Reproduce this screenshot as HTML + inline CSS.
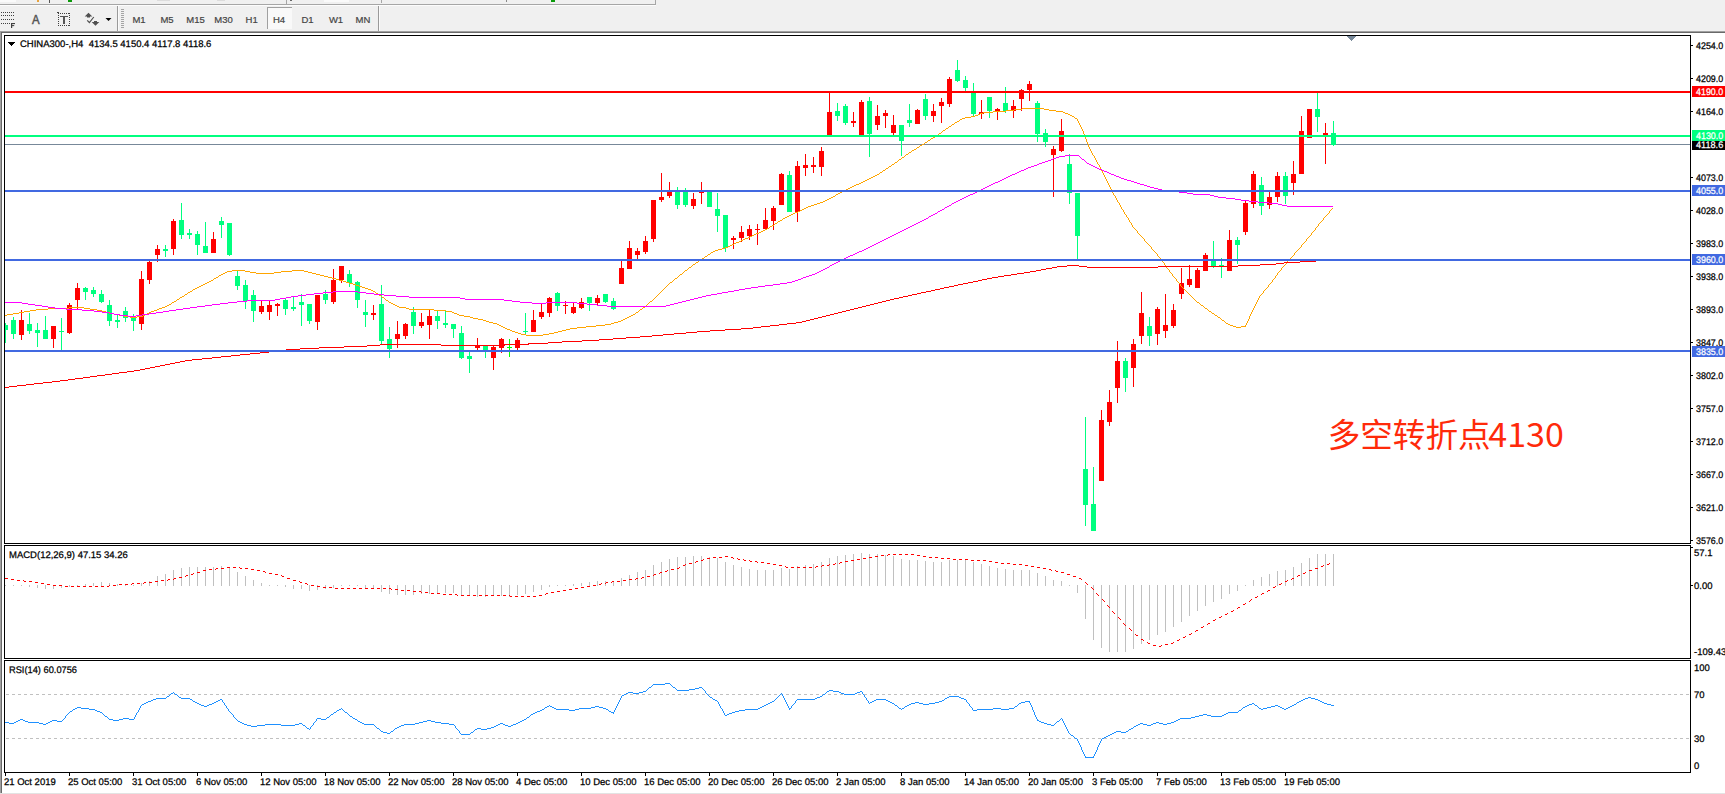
<!DOCTYPE html>
<html><head><meta charset="utf-8"><title>CHINA300-,H4</title>
<style>
html,body{margin:0;padding:0;}
body{width:1725px;height:794px;overflow:hidden;background:#f0f0f0;position:relative;font-family:"Liberation Sans", sans-serif;}
#tb{position:absolute;left:0;top:0;width:1725px;height:31px;}
#tb div{position:absolute;}
.tf{font-size:9.5px;color:#444;top:14px;width:28px;text-align:center;line-height:11px;}
</style></head><body>
<svg width="1725" height="794" viewBox="0 0 1725 794" style="position:absolute;left:0;top:0" shape-rendering="crispEdges"><defs><clipPath id="cm"><rect x="5" y="36" width="1685" height="507"/></clipPath></defs><rect x="0" y="31" width="1725" height="1" fill="#a0a0a0"/><rect x="0" y="32" width="1725" height="1" fill="#696969"/><rect x="0" y="32" width="1" height="761" fill="#a0a0a0"/><rect x="1" y="33" width="1" height="760" fill="#696969"/><rect x="2" y="33" width="1723" height="760" fill="#ffffff"/><rect x="0" y="793" width="1725" height="1" fill="#e3e3e3"/><rect x="4" y="35" width="1687" height="1" fill="#000"/><rect x="4" y="35" width="1" height="509" fill="#000"/><rect x="4" y="543" width="1687" height="1" fill="#000"/><rect x="1690" y="35" width="1" height="509" fill="#000"/><rect x="4" y="545" width="1687" height="1" fill="#000"/><rect x="4" y="545" width="1" height="114" fill="#000"/><rect x="4" y="658" width="1687" height="1" fill="#000"/><rect x="1690" y="545" width="1" height="114" fill="#000"/><rect x="4" y="660" width="1687" height="1" fill="#000"/><rect x="4" y="660" width="1" height="113" fill="#000"/><rect x="4" y="772" width="1687" height="1" fill="#000"/><rect x="1690" y="660" width="1" height="113" fill="#000"/><g clip-path="url(#cm)"><rect x="5" y="144" width="1685" height="1" fill="#778899"/><rect x="5" y="323" width="1" height="20" fill="#00ff7f"/><rect x="3" y="325" width="5" height="5" fill="#00ff7f"/><rect x="13" y="317" width="1" height="22" fill="#00ff7f"/><rect x="11" y="320" width="5" height="14" fill="#00ff7f"/><rect x="21" y="310" width="1" height="30" fill="#ff0000"/><rect x="19" y="320" width="5" height="15" fill="#ff0000"/><rect x="29" y="313" width="1" height="21" fill="#00ff7f"/><rect x="27" y="324" width="5" height="7" fill="#00ff7f"/><rect x="37" y="323" width="1" height="24" fill="#00ff7f"/><rect x="35" y="330" width="5" height="3" fill="#00ff7f"/><rect x="45" y="316" width="1" height="23" fill="#00ff7f"/><rect x="43" y="330" width="5" height="9" fill="#00ff7f"/><rect x="53" y="326" width="1" height="22" fill="#ff0000"/><rect x="51" y="326" width="5" height="13" fill="#ff0000"/><rect x="61" y="318" width="1" height="32" fill="#00ff7f"/><rect x="59" y="331" width="5" height="1" fill="#00ff7f"/><rect x="69" y="303" width="1" height="31" fill="#ff0000"/><rect x="67" y="305" width="5" height="28" fill="#ff0000"/><rect x="77" y="283" width="1" height="26" fill="#ff0000"/><rect x="75" y="288" width="5" height="12" fill="#ff0000"/><rect x="85" y="287" width="1" height="13" fill="#00ff7f"/><rect x="83" y="288" width="5" height="4" fill="#00ff7f"/><rect x="93" y="287" width="1" height="10" fill="#00ff7f"/><rect x="91" y="290" width="5" height="4" fill="#00ff7f"/><rect x="101" y="290" width="1" height="13" fill="#00ff7f"/><rect x="99" y="294" width="5" height="8" fill="#00ff7f"/><rect x="109" y="300" width="1" height="26" fill="#00ff7f"/><rect x="107" y="305" width="5" height="16" fill="#00ff7f"/><rect x="117" y="314" width="1" height="14" fill="#00ff7f"/><rect x="115" y="320" width="5" height="2" fill="#00ff7f"/><rect x="125" y="307" width="1" height="15" fill="#00ff7f"/><rect x="123" y="311" width="5" height="7" fill="#00ff7f"/><rect x="133" y="314" width="1" height="17" fill="#00ff7f"/><rect x="131" y="317" width="5" height="4" fill="#00ff7f"/><rect x="141" y="271" width="1" height="59" fill="#ff0000"/><rect x="139" y="279" width="5" height="45" fill="#ff0000"/><rect x="149" y="261" width="1" height="23" fill="#ff0000"/><rect x="147" y="262" width="5" height="18" fill="#ff0000"/><rect x="157" y="245" width="1" height="17" fill="#ff0000"/><rect x="155" y="249" width="5" height="6" fill="#ff0000"/><rect x="165" y="245" width="1" height="12" fill="#00ff7f"/><rect x="163" y="249" width="5" height="2" fill="#00ff7f"/><rect x="173" y="219" width="1" height="36" fill="#ff0000"/><rect x="171" y="221" width="5" height="28" fill="#ff0000"/><rect x="181" y="203" width="1" height="36" fill="#00ff7f"/><rect x="179" y="220" width="5" height="15" fill="#00ff7f"/><rect x="189" y="229" width="1" height="10" fill="#00ff7f"/><rect x="187" y="233" width="5" height="2" fill="#00ff7f"/><rect x="197" y="231" width="1" height="24" fill="#00ff7f"/><rect x="195" y="234" width="5" height="11" fill="#00ff7f"/><rect x="205" y="222" width="1" height="31" fill="#00ff7f"/><rect x="203" y="246" width="5" height="7" fill="#00ff7f"/><rect x="213" y="232" width="1" height="21" fill="#ff0000"/><rect x="211" y="239" width="5" height="14" fill="#ff0000"/><rect x="221" y="217" width="1" height="21" fill="#00ff7f"/><rect x="219" y="221" width="5" height="4" fill="#00ff7f"/><rect x="229" y="223" width="1" height="33" fill="#00ff7f"/><rect x="227" y="223" width="5" height="32" fill="#00ff7f"/><rect x="237" y="271" width="1" height="19" fill="#00ff7f"/><rect x="235" y="276" width="5" height="10" fill="#00ff7f"/><rect x="245" y="280" width="1" height="29" fill="#00ff7f"/><rect x="243" y="285" width="5" height="16" fill="#00ff7f"/><rect x="253" y="290" width="1" height="32" fill="#00ff7f"/><rect x="251" y="295" width="5" height="16" fill="#00ff7f"/><rect x="261" y="301" width="1" height="13" fill="#ff0000"/><rect x="259" y="306" width="5" height="6" fill="#ff0000"/><rect x="269" y="301" width="1" height="19" fill="#ff0000"/><rect x="267" y="305" width="5" height="7" fill="#ff0000"/><rect x="277" y="303" width="1" height="13" fill="#ff0000"/><rect x="275" y="304" width="5" height="2" fill="#ff0000"/><rect x="285" y="299" width="1" height="16" fill="#00ff7f"/><rect x="283" y="300" width="5" height="9" fill="#00ff7f"/><rect x="293" y="296" width="1" height="15" fill="#00ff7f"/><rect x="291" y="307" width="5" height="2" fill="#00ff7f"/><rect x="301" y="294" width="1" height="32" fill="#00ff7f"/><rect x="299" y="302" width="5" height="3" fill="#00ff7f"/><rect x="309" y="304" width="1" height="20" fill="#00ff7f"/><rect x="307" y="304" width="5" height="17" fill="#00ff7f"/><rect x="317" y="295" width="1" height="35" fill="#ff0000"/><rect x="315" y="295" width="5" height="27" fill="#ff0000"/><rect x="325" y="290" width="1" height="14" fill="#00ff7f"/><rect x="323" y="294" width="5" height="6" fill="#00ff7f"/><rect x="333" y="269" width="1" height="35" fill="#ff0000"/><rect x="331" y="280" width="5" height="22" fill="#ff0000"/><rect x="341" y="266" width="1" height="17" fill="#ff0000"/><rect x="339" y="266" width="5" height="14" fill="#ff0000"/><rect x="349" y="270" width="1" height="17" fill="#00ff7f"/><rect x="347" y="274" width="5" height="9" fill="#00ff7f"/><rect x="357" y="281" width="1" height="27" fill="#00ff7f"/><rect x="355" y="282" width="5" height="18" fill="#00ff7f"/><rect x="365" y="300" width="1" height="27" fill="#00ff7f"/><rect x="363" y="312" width="5" height="3" fill="#00ff7f"/><rect x="373" y="305" width="1" height="15" fill="#ff0000"/><rect x="371" y="313" width="5" height="2" fill="#ff0000"/><rect x="381" y="285" width="1" height="60" fill="#00ff7f"/><rect x="379" y="304" width="5" height="37" fill="#00ff7f"/><rect x="389" y="327" width="1" height="31" fill="#00ff7f"/><rect x="387" y="339" width="5" height="10" fill="#00ff7f"/><rect x="397" y="321" width="1" height="27" fill="#ff0000"/><rect x="395" y="334" width="5" height="5" fill="#ff0000"/><rect x="405" y="323" width="1" height="16" fill="#ff0000"/><rect x="403" y="324" width="5" height="12" fill="#ff0000"/><rect x="413" y="307" width="1" height="27" fill="#00ff7f"/><rect x="411" y="312" width="5" height="14" fill="#00ff7f"/><rect x="421" y="313" width="1" height="15" fill="#ff0000"/><rect x="419" y="322" width="5" height="4" fill="#ff0000"/><rect x="429" y="309" width="1" height="30" fill="#ff0000"/><rect x="427" y="316" width="5" height="9" fill="#ff0000"/><rect x="437" y="311" width="1" height="18" fill="#00ff7f"/><rect x="435" y="316" width="5" height="5" fill="#00ff7f"/><rect x="445" y="310" width="1" height="18" fill="#00ff7f"/><rect x="443" y="323" width="5" height="2" fill="#00ff7f"/><rect x="453" y="324" width="1" height="14" fill="#00ff7f"/><rect x="451" y="324" width="5" height="5" fill="#00ff7f"/><rect x="461" y="326" width="1" height="33" fill="#00ff7f"/><rect x="459" y="333" width="5" height="25" fill="#00ff7f"/><rect x="469" y="352" width="1" height="21" fill="#00ff7f"/><rect x="467" y="356" width="5" height="3" fill="#00ff7f"/><rect x="477" y="338" width="1" height="12" fill="#ff0000"/><rect x="475" y="346" width="5" height="2" fill="#ff0000"/><rect x="485" y="346" width="1" height="12" fill="#00ff7f"/><rect x="483" y="346" width="5" height="4" fill="#00ff7f"/><rect x="493" y="346" width="1" height="24" fill="#ff0000"/><rect x="491" y="347" width="5" height="11" fill="#ff0000"/><rect x="501" y="338" width="1" height="15" fill="#ff0000"/><rect x="499" y="339" width="5" height="9" fill="#ff0000"/><rect x="509" y="339" width="1" height="18" fill="#00ff00"/><rect x="507" y="347" width="5" height="1" fill="#00ff00"/><rect x="517" y="338" width="1" height="12" fill="#ff0000"/><rect x="515" y="340" width="5" height="8" fill="#ff0000"/><rect x="525" y="313" width="1" height="22" fill="#00ff7f"/><rect x="523" y="331" width="5" height="1" fill="#00ff7f"/><rect x="533" y="310" width="1" height="22" fill="#ff0000"/><rect x="531" y="320" width="5" height="12" fill="#ff0000"/><rect x="541" y="304" width="1" height="15" fill="#ff0000"/><rect x="539" y="312" width="5" height="5" fill="#ff0000"/><rect x="549" y="297" width="1" height="20" fill="#ff0000"/><rect x="547" y="298" width="5" height="15" fill="#ff0000"/><rect x="557" y="292" width="1" height="19" fill="#00ff7f"/><rect x="555" y="293" width="5" height="13" fill="#00ff7f"/><rect x="565" y="301" width="1" height="13" fill="#ff0000"/><rect x="563" y="305" width="5" height="1" fill="#ff0000"/><rect x="573" y="302" width="1" height="12" fill="#ff0000"/><rect x="571" y="307" width="5" height="6" fill="#ff0000"/><rect x="581" y="298" width="1" height="11" fill="#ff0000"/><rect x="579" y="302" width="5" height="6" fill="#ff0000"/><rect x="589" y="297" width="1" height="14" fill="#00ff7f"/><rect x="587" y="297" width="5" height="6" fill="#00ff7f"/><rect x="597" y="295" width="1" height="11" fill="#ff0000"/><rect x="595" y="298" width="5" height="5" fill="#ff0000"/><rect x="605" y="294" width="1" height="9" fill="#00ff7f"/><rect x="603" y="294" width="5" height="8" fill="#00ff7f"/><rect x="613" y="298" width="1" height="12" fill="#00ff7f"/><rect x="611" y="301" width="5" height="8" fill="#00ff7f"/><rect x="621" y="261" width="1" height="23" fill="#ff0000"/><rect x="619" y="268" width="5" height="16" fill="#ff0000"/><rect x="629" y="241" width="1" height="28" fill="#ff0000"/><rect x="627" y="248" width="5" height="21" fill="#ff0000"/><rect x="637" y="248" width="1" height="11" fill="#ff0000"/><rect x="635" y="251" width="5" height="4" fill="#ff0000"/><rect x="645" y="236" width="1" height="18" fill="#ff0000"/><rect x="643" y="241" width="5" height="11" fill="#ff0000"/><rect x="653" y="200" width="1" height="42" fill="#ff0000"/><rect x="651" y="200" width="5" height="39" fill="#ff0000"/><rect x="661" y="173" width="1" height="29" fill="#ff0000"/><rect x="659" y="197" width="5" height="3" fill="#ff0000"/><rect x="669" y="182" width="1" height="16" fill="#ff0000"/><rect x="667" y="192" width="5" height="4" fill="#ff0000"/><rect x="677" y="187" width="1" height="22" fill="#00ff7f"/><rect x="675" y="192" width="5" height="13" fill="#00ff7f"/><rect x="685" y="188" width="1" height="19" fill="#00ff7f"/><rect x="683" y="192" width="5" height="13" fill="#00ff7f"/><rect x="693" y="193" width="1" height="16" fill="#ff0000"/><rect x="691" y="199" width="5" height="7" fill="#ff0000"/><rect x="701" y="182" width="1" height="22" fill="#ff0000"/><rect x="699" y="191" width="5" height="2" fill="#ff0000"/><rect x="709" y="191" width="1" height="16" fill="#00ff7f"/><rect x="707" y="191" width="5" height="16" fill="#00ff7f"/><rect x="717" y="193" width="1" height="39" fill="#00ff7f"/><rect x="715" y="209" width="5" height="7" fill="#00ff7f"/><rect x="725" y="215" width="1" height="37" fill="#00ff7f"/><rect x="723" y="215" width="5" height="33" fill="#00ff7f"/><rect x="733" y="236" width="1" height="13" fill="#ff0000"/><rect x="731" y="238" width="5" height="2" fill="#ff0000"/><rect x="741" y="226" width="1" height="16" fill="#ff0000"/><rect x="739" y="232" width="5" height="6" fill="#ff0000"/><rect x="749" y="225" width="1" height="15" fill="#ff0000"/><rect x="747" y="229" width="5" height="7" fill="#ff0000"/><rect x="757" y="224" width="1" height="21" fill="#ff0000"/><rect x="755" y="229" width="5" height="1" fill="#ff0000"/><rect x="765" y="208" width="1" height="22" fill="#ff0000"/><rect x="763" y="220" width="5" height="9" fill="#ff0000"/><rect x="773" y="206" width="1" height="24" fill="#ff0000"/><rect x="771" y="208" width="5" height="13" fill="#ff0000"/><rect x="781" y="173" width="1" height="32" fill="#ff0000"/><rect x="779" y="174" width="5" height="31" fill="#ff0000"/><rect x="789" y="171" width="1" height="41" fill="#00ff7f"/><rect x="787" y="175" width="5" height="37" fill="#00ff7f"/><rect x="797" y="161" width="1" height="61" fill="#ff0000"/><rect x="795" y="166" width="5" height="46" fill="#ff0000"/><rect x="805" y="154" width="1" height="22" fill="#ff0000"/><rect x="803" y="165" width="5" height="3" fill="#ff0000"/><rect x="813" y="157" width="1" height="16" fill="#ff0000"/><rect x="811" y="165" width="5" height="2" fill="#ff0000"/><rect x="821" y="147" width="1" height="29" fill="#ff0000"/><rect x="819" y="151" width="5" height="16" fill="#ff0000"/><rect x="829" y="93" width="1" height="42" fill="#ff0000"/><rect x="827" y="112" width="5" height="23" fill="#ff0000"/><rect x="837" y="103" width="1" height="18" fill="#00ff7f"/><rect x="835" y="111" width="5" height="5" fill="#00ff7f"/><rect x="845" y="104" width="1" height="21" fill="#00ff7f"/><rect x="843" y="106" width="5" height="17" fill="#00ff7f"/><rect x="853" y="112" width="1" height="15" fill="#ff0000"/><rect x="851" y="121" width="5" height="2" fill="#ff0000"/><rect x="861" y="100" width="1" height="35" fill="#ff0000"/><rect x="859" y="102" width="5" height="33" fill="#ff0000"/><rect x="869" y="97" width="1" height="60" fill="#00ff7f"/><rect x="867" y="101" width="5" height="33" fill="#00ff7f"/><rect x="877" y="105" width="1" height="25" fill="#ff0000"/><rect x="875" y="116" width="5" height="9" fill="#ff0000"/><rect x="885" y="110" width="1" height="18" fill="#ff0000"/><rect x="883" y="113" width="5" height="3" fill="#ff0000"/><rect x="893" y="115" width="1" height="20" fill="#ff0000"/><rect x="891" y="125" width="5" height="8" fill="#ff0000"/><rect x="901" y="125" width="1" height="31" fill="#00ff7f"/><rect x="899" y="125" width="5" height="16" fill="#00ff7f"/><rect x="909" y="104" width="1" height="23" fill="#00ff7f"/><rect x="907" y="120" width="5" height="3" fill="#00ff7f"/><rect x="917" y="109" width="1" height="15" fill="#ff0000"/><rect x="915" y="110" width="5" height="14" fill="#ff0000"/><rect x="925" y="94" width="1" height="26" fill="#00ff7f"/><rect x="923" y="99" width="5" height="17" fill="#00ff7f"/><rect x="933" y="104" width="1" height="18" fill="#ff0000"/><rect x="931" y="111" width="5" height="5" fill="#ff0000"/><rect x="941" y="98" width="1" height="25" fill="#ff0000"/><rect x="939" y="102" width="5" height="4" fill="#ff0000"/><rect x="949" y="77" width="1" height="30" fill="#ff0000"/><rect x="947" y="79" width="5" height="25" fill="#ff0000"/><rect x="957" y="60" width="1" height="22" fill="#00ff7f"/><rect x="955" y="70" width="5" height="11" fill="#00ff7f"/><rect x="965" y="76" width="1" height="15" fill="#00ff7f"/><rect x="963" y="80" width="5" height="8" fill="#00ff7f"/><rect x="973" y="83" width="1" height="33" fill="#00ff7f"/><rect x="971" y="93" width="5" height="21" fill="#00ff7f"/><rect x="981" y="100" width="1" height="19" fill="#ff0000"/><rect x="979" y="112" width="5" height="2" fill="#ff0000"/><rect x="989" y="97" width="1" height="21" fill="#00ff7f"/><rect x="987" y="97" width="5" height="14" fill="#00ff7f"/><rect x="997" y="108" width="1" height="12" fill="#ff0000"/><rect x="995" y="109" width="5" height="2" fill="#ff0000"/><rect x="1005" y="87" width="1" height="26" fill="#00ff7f"/><rect x="1003" y="103" width="5" height="8" fill="#00ff7f"/><rect x="1013" y="100" width="1" height="18" fill="#ff0000"/><rect x="1011" y="106" width="5" height="5" fill="#ff0000"/><rect x="1021" y="89" width="1" height="22" fill="#ff0000"/><rect x="1019" y="90" width="5" height="9" fill="#ff0000"/><rect x="1029" y="81" width="1" height="20" fill="#ff0000"/><rect x="1027" y="84" width="5" height="6" fill="#ff0000"/><rect x="1037" y="101" width="1" height="41" fill="#00ff7f"/><rect x="1035" y="103" width="5" height="31" fill="#00ff7f"/><rect x="1045" y="129" width="1" height="18" fill="#00ff7f"/><rect x="1043" y="133" width="5" height="9" fill="#00ff7f"/><rect x="1053" y="146" width="1" height="51" fill="#ff0000"/><rect x="1051" y="149" width="5" height="6" fill="#ff0000"/><rect x="1061" y="119" width="1" height="33" fill="#ff0000"/><rect x="1059" y="131" width="5" height="20" fill="#ff0000"/><rect x="1069" y="154" width="1" height="50" fill="#00ff7f"/><rect x="1067" y="164" width="5" height="29" fill="#00ff7f"/><rect x="1077" y="193" width="1" height="66" fill="#00ff7f"/><rect x="1075" y="193" width="5" height="43" fill="#00ff7f"/><rect x="1085" y="417" width="1" height="109" fill="#00ff7f"/><rect x="1083" y="469" width="5" height="36" fill="#00ff7f"/><rect x="1093" y="467" width="1" height="64" fill="#00ff7f"/><rect x="1091" y="504" width="5" height="27" fill="#00ff7f"/><rect x="1101" y="410" width="1" height="71" fill="#ff0000"/><rect x="1099" y="420" width="5" height="61" fill="#ff0000"/><rect x="1109" y="390" width="1" height="36" fill="#ff0000"/><rect x="1107" y="402" width="5" height="20" fill="#ff0000"/><rect x="1117" y="341" width="1" height="62" fill="#ff0000"/><rect x="1115" y="361" width="5" height="27" fill="#ff0000"/><rect x="1125" y="358" width="1" height="34" fill="#00ff7f"/><rect x="1123" y="361" width="5" height="17" fill="#00ff7f"/><rect x="1133" y="339" width="1" height="48" fill="#ff0000"/><rect x="1131" y="344" width="5" height="24" fill="#ff0000"/><rect x="1141" y="292" width="1" height="52" fill="#ff0000"/><rect x="1139" y="313" width="5" height="23" fill="#ff0000"/><rect x="1149" y="317" width="1" height="29" fill="#00ff7f"/><rect x="1147" y="326" width="5" height="10" fill="#00ff7f"/><rect x="1157" y="307" width="1" height="38" fill="#ff0000"/><rect x="1155" y="309" width="5" height="25" fill="#ff0000"/><rect x="1165" y="294" width="1" height="44" fill="#ff0000"/><rect x="1163" y="325" width="5" height="6" fill="#ff0000"/><rect x="1173" y="304" width="1" height="24" fill="#ff0000"/><rect x="1171" y="310" width="5" height="16" fill="#ff0000"/><rect x="1181" y="268" width="1" height="31" fill="#ff0000"/><rect x="1179" y="283" width="5" height="11" fill="#ff0000"/><rect x="1189" y="265" width="1" height="22" fill="#ff0000"/><rect x="1187" y="279" width="5" height="6" fill="#ff0000"/><rect x="1197" y="268" width="1" height="20" fill="#ff0000"/><rect x="1195" y="270" width="5" height="18" fill="#ff0000"/><rect x="1205" y="253" width="1" height="18" fill="#ff0000"/><rect x="1203" y="255" width="5" height="16" fill="#ff0000"/><rect x="1213" y="241" width="1" height="27" fill="#00ff7f"/><rect x="1211" y="261" width="5" height="5" fill="#00ff7f"/><rect x="1221" y="258" width="1" height="20" fill="#00ff7f"/><rect x="1219" y="265" width="5" height="1" fill="#00ff7f"/><rect x="1229" y="230" width="1" height="41" fill="#ff0000"/><rect x="1227" y="240" width="5" height="31" fill="#ff0000"/><rect x="1237" y="237" width="1" height="27" fill="#00ff7f"/><rect x="1235" y="240" width="5" height="5" fill="#00ff7f"/><rect x="1245" y="201" width="1" height="34" fill="#ff0000"/><rect x="1243" y="203" width="5" height="29" fill="#ff0000"/><rect x="1253" y="171" width="1" height="37" fill="#ff0000"/><rect x="1251" y="174" width="5" height="30" fill="#ff0000"/><rect x="1261" y="177" width="1" height="38" fill="#00ff7f"/><rect x="1259" y="185" width="5" height="21" fill="#00ff7f"/><rect x="1269" y="192" width="1" height="17" fill="#ff0000"/><rect x="1267" y="197" width="5" height="8" fill="#ff0000"/><rect x="1277" y="172" width="1" height="30" fill="#ff0000"/><rect x="1275" y="176" width="5" height="21" fill="#ff0000"/><rect x="1285" y="172" width="1" height="32" fill="#00ff7f"/><rect x="1283" y="176" width="5" height="20" fill="#00ff7f"/><rect x="1293" y="161" width="1" height="34" fill="#ff0000"/><rect x="1291" y="174" width="5" height="9" fill="#ff0000"/><rect x="1301" y="116" width="1" height="58" fill="#ff0000"/><rect x="1299" y="131" width="5" height="43" fill="#ff0000"/><rect x="1309" y="109" width="1" height="29" fill="#ff0000"/><rect x="1307" y="109" width="5" height="29" fill="#ff0000"/><rect x="1317" y="93" width="1" height="39" fill="#00ff7f"/><rect x="1315" y="109" width="5" height="8" fill="#00ff7f"/><rect x="1325" y="123" width="1" height="41" fill="#ff0000"/><rect x="1323" y="133" width="5" height="2" fill="#ff0000"/><rect x="1333" y="121" width="1" height="25" fill="#00ff7f"/><rect x="1331" y="133" width="5" height="12" fill="#00ff7f"/><path d="M4 315h3v1h-3zM7 314h6v1h-6zM13 313h6v1h-6zM19 312h5v1h-5zM24 311h6v1h-6zM30 310h6v1h-6zM36 309h12v1h-12zM48 308h21v1h-21zM69 307h15v1h-15zM84 308h6v1h-6zM90 309h7v1h-7zM97 310h5v1h-5zM102 311h4v1h-4zM106 312h4v1h-4zM110 313h4v1h-4zM114 314h5v1h-5zM119 315h5v1h-5zM124 316h6v1h-6zM130 317h7v1h-7zM137 316h6v1h-6zM143 315h2v1h-2zM145 314h2v1h-2zM147 313h2v1h-2zM149 312h2v1h-2zM151 311h3v1h-3zM154 310h3v1h-3zM157 309h2v1h-2zM159 308h3v1h-3zM162 307h3v1h-3zM165 306h2v1h-2zM167 305h2v1h-2zM169 304h2v1h-2zM171 303h1v1h-1zM172 302h2v1h-2zM174 301h2v1h-2zM176 300h1v1h-1zM177 299h2v1h-2zM179 298h1v1h-1zM180 297h2v1h-2zM182 296h2v1h-2zM184 295h1v1h-1zM185 294h2v1h-2zM187 293h1v1h-1zM188 292h2v1h-2zM190 291h2v1h-2zM192 290h1v1h-1zM193 289h2v1h-2zM195 288h2v1h-2zM197 287h2v1h-2zM199 286h2v1h-2zM201 285h2v1h-2zM203 284h2v1h-2zM205 283h2v1h-2zM207 282h2v1h-2zM209 281h2v1h-2zM211 280h2v1h-2zM213 279h1v1h-1zM214 278h2v1h-2zM216 277h2v1h-2zM218 276h1v1h-1zM219 275h2v1h-2zM221 274h2v1h-2zM223 273h2v1h-2zM225 272h2v1h-2zM227 271h5v1h-5zM232 270h13v1h-13zM245 271h5v1h-5zM250 272h6v1h-6zM256 273h18v1h-18zM274 272h7v1h-7zM281 271h11v1h-11zM292 270h12v1h-12zM304 271h4v1h-4zM308 272h4v1h-4zM312 273h4v1h-4zM316 274h4v1h-4zM320 275h4v1h-4zM324 276h4v1h-4zM328 277h4v1h-4zM332 278h4v1h-4zM336 279h3v1h-3zM339 280h4v1h-4zM343 281h3v1h-3zM346 282h3v1h-3zM349 283h4v1h-4zM353 284h3v1h-3zM356 285h3v1h-3zM359 286h3v1h-3zM362 287h3v1h-3zM365 288h3v1h-3zM368 289h3v1h-3zM371 290h2v1h-2zM373 291h2v1h-2zM375 292h1v1h-1zM376 293h2v1h-2zM378 294h1v1h-1zM379 295h2v1h-2zM381 296h1v1h-1zM382 297h2v1h-2zM384 298h1v1h-1zM385 299h1v1h-1zM386 300h2v1h-2zM388 301h1v1h-1zM389 302h2v1h-2zM391 303h2v1h-2zM393 304h2v1h-2zM395 305h2v1h-2zM397 306h2v1h-2zM399 307h7v1h-7zM406 308h3v1h-3zM409 309h25v1h-25zM434 310h12v1h-12zM446 311h6v1h-6zM452 312h2v1h-2zM454 313h3v1h-3zM457 314h2v1h-2zM459 315h5v1h-5zM464 316h6v1h-6zM470 317h3v1h-3zM473 318h5v1h-5zM478 319h5v1h-5zM483 320h3v1h-3zM486 321h3v1h-3zM489 322h4v1h-4zM493 323h4v1h-4zM497 324h2v1h-2zM499 325h2v1h-2zM501 326h2v1h-2zM503 327h2v1h-2zM505 328h2v1h-2zM507 329h3v1h-3zM510 330h2v1h-2zM512 331h3v1h-3zM515 332h3v1h-3zM518 333h3v1h-3zM521 334h5v1h-5zM526 335h17v1h-17zM543 334h6v1h-6zM549 333h5v1h-5zM554 332h4v1h-4zM558 331h4v1h-4zM562 330h4v1h-4zM566 329h4v1h-4zM570 328h7v1h-7zM577 327h9v1h-9zM586 326h10v1h-10zM596 325h9v1h-9zM605 324h6v1h-6zM611 323h3v1h-3zM614 322h4v1h-4zM618 321h3v1h-3zM621 320h2v1h-2zM623 319h2v1h-2zM625 318h2v1h-2zM627 317h2v1h-2zM629 316h2v1h-2zM631 315h2v1h-2zM633 314h2v1h-2zM635 313h1v1h-1zM636 312h2v1h-2zM638 311h1v1h-1zM639 310h1v1h-1zM640 309h2v1h-2zM642 308h1v1h-1zM643 307h2v1h-2zM645 306h1v1h-1zM646 305h1v1h-1zM647 304h1v1h-1zM648 303h1v1h-1zM649 302h1v1h-1zM650 301h2v1h-2zM652 300h1v1h-1zM653 299h1v1h-1zM654 298h1v1h-1zM655 297h1v1h-1zM656 296h1v1h-1zM657 295h1v1h-1zM658 294h1v1h-1zM659 293h1v1h-1zM660 292h1v1h-1zM661 291h1v1h-1zM662 290h1v1h-1zM663 289h1v1h-1zM664 288h1v1h-1zM665 287h1v1h-1zM666 286h1v1h-1zM667 285h1v1h-1zM668 284h1v1h-1zM669 283h1v1h-1zM670 282h2v1h-2zM672 281h1v1h-1zM673 280h1v1h-1zM674 279h1v1h-1zM675 278h2v1h-2zM677 277h1v1h-1zM678 276h1v1h-1zM679 275h1v1h-1zM680 274h2v1h-2zM682 273h1v1h-1zM683 272h1v1h-1zM684 271h1v1h-1zM685 270h2v1h-2zM687 269h1v1h-1zM688 268h1v1h-1zM689 267h2v1h-2zM691 266h1v1h-1zM692 265h1v1h-1zM693 264h2v1h-2zM695 263h1v1h-1zM696 262h2v1h-2zM698 261h1v1h-1zM699 260h2v1h-2zM701 259h1v1h-1zM702 258h2v1h-2zM704 257h1v1h-1zM705 256h2v1h-2zM707 255h1v1h-1zM708 254h2v1h-2zM710 253h1v1h-1zM711 252h2v1h-2zM713 251h2v1h-2zM715 250h3v1h-3zM718 249h4v1h-4zM722 248h3v1h-3zM725 247h3v1h-3zM728 246h2v1h-2zM730 245h2v1h-2zM732 244h2v1h-2zM734 243h2v1h-2zM736 242h3v1h-3zM739 241h2v1h-2zM741 240h2v1h-2zM743 239h2v1h-2zM745 238h3v1h-3zM748 237h2v1h-2zM750 236h2v1h-2zM752 235h2v1h-2zM754 234h2v1h-2zM756 233h3v1h-3zM759 232h2v1h-2zM761 231h2v1h-2zM763 230h2v1h-2zM765 229h2v1h-2zM767 228h2v1h-2zM769 227h1v1h-1zM770 226h2v1h-2zM772 225h2v1h-2zM774 224h1v1h-1zM775 223h2v1h-2zM777 222h1v1h-1zM778 221h2v1h-2zM780 220h2v1h-2zM782 219h1v1h-1zM783 218h2v1h-2zM785 217h2v1h-2zM787 216h2v1h-2zM789 215h2v1h-2zM791 214h2v1h-2zM793 213h2v1h-2zM795 212h3v1h-3zM798 211h2v1h-2zM800 210h2v1h-2zM802 209h2v1h-2zM804 208h2v1h-2zM806 207h2v1h-2zM808 206h3v1h-3zM811 205h3v1h-3zM814 204h3v1h-3zM817 203h3v1h-3zM820 202h3v1h-3zM823 201h2v1h-2zM825 200h2v1h-2zM827 199h2v1h-2zM829 198h2v1h-2zM831 197h2v1h-2zM833 196h2v1h-2zM835 195h1v1h-1zM836 194h2v1h-2zM838 193h2v1h-2zM840 192h2v1h-2zM842 191h2v1h-2zM844 190h2v1h-2zM846 189h2v1h-2zM848 188h2v1h-2zM850 187h2v1h-2zM852 186h2v1h-2zM854 185h2v1h-2zM856 184h3v1h-3zM859 183h2v1h-2zM861 182h2v1h-2zM863 181h2v1h-2zM865 180h2v1h-2zM867 179h2v1h-2zM869 178h2v1h-2zM871 177h2v1h-2zM873 176h2v1h-2zM875 175h2v1h-2zM877 174h2v1h-2zM879 173h1v1h-1zM880 172h2v1h-2zM882 171h1v1h-1zM883 170h2v1h-2zM885 169h1v1h-1zM886 168h2v1h-2zM888 167h1v1h-1zM889 166h2v1h-2zM891 165h1v1h-1zM892 164h2v1h-2zM894 163h1v1h-1zM895 162h2v1h-2zM897 161h1v1h-1zM898 160h1v1h-1zM899 159h2v1h-2zM901 158h1v1h-1zM902 157h2v1h-2zM904 156h1v1h-1zM905 155h1v1h-1zM906 154h2v1h-2zM908 153h1v1h-1zM909 152h2v1h-2zM911 151h1v1h-1zM912 150h2v1h-2zM914 149h2v1h-2zM916 148h1v1h-1zM917 147h2v1h-2zM919 146h1v1h-1zM920 145h2v1h-2zM922 144h2v1h-2zM924 143h1v1h-1zM925 142h2v1h-2zM927 141h1v1h-1zM928 140h2v1h-2zM930 139h1v1h-1zM931 138h2v1h-2zM933 137h2v1h-2zM935 136h1v1h-1zM936 135h2v1h-2zM938 134h1v1h-1zM939 133h2v1h-2zM941 132h1v1h-1zM942 131h1v1h-1zM943 130h2v1h-2zM945 129h1v1h-1zM946 128h2v1h-2zM948 127h1v1h-1zM949 126h2v1h-2zM951 125h1v1h-1zM952 124h2v1h-2zM954 123h1v1h-1zM955 122h2v1h-2zM957 121h2v1h-2zM959 120h1v1h-1zM960 119h2v1h-2zM962 118h3v1h-3zM965 117h6v1h-6zM971 116h4v1h-4zM975 115h3v1h-3zM978 114h2v1h-2zM980 113h3v1h-3zM983 112h10v1h-10zM993 111h13v1h-13zM1006 110h8v1h-8zM1014 109h8v1h-8zM1022 108h22v1h-22zM1044 109h5v1h-5zM1049 110h7v1h-7zM1056 111h7v1h-7zM1063 112h2v1h-2zM1065 113h3v1h-3zM1068 114h2v1h-2zM1070 115h2v1h-2zM1072 116h2v1h-2zM1074 117h1v1h-1zM1075 118h2v1h-2zM1077 119h1v2h-1zM1078 121h1v2h-1zM1079 123h1v2h-1zM1080 125h1v2h-1zM1081 127h1v2h-1zM1082 129h1v2h-1zM1083 131h1v3h-1zM1084 134h1v2h-1zM1085 136h1v3h-1zM1086 139h1v3h-1zM1087 142h1v2h-1zM1088 144h1v3h-1zM1089 147h1v2h-1zM1090 149h1v2h-1zM1091 151h1v2h-1zM1092 153h1v2h-1zM1093 155h1v1h-1zM1094 156h1v2h-1zM1095 158h1v2h-1zM1096 160h1v2h-1zM1097 162h1v2h-1zM1098 164h1v1h-1zM1099 165h1v2h-1zM1100 167h1v2h-1zM1101 169h1v2h-1zM1102 171h1v2h-1zM1103 173h1v2h-1zM1104 175h1v2h-1zM1105 177h1v2h-1zM1106 179h1v2h-1zM1107 181h1v2h-1zM1108 183h1v2h-1zM1109 185h1v2h-1zM1110 187h1v2h-1zM1111 189h1v2h-1zM1112 191h1v2h-1zM1113 193h1v2h-1zM1114 195h1v1h-1zM1115 196h1v2h-1zM1116 198h1v2h-1zM1117 200h1v2h-1zM1118 202h1v1h-1zM1119 203h1v2h-1zM1120 205h1v2h-1zM1121 207h1v2h-1zM1122 209h1v1h-1zM1123 210h1v2h-1zM1124 212h1v2h-1zM1125 214h1v1h-1zM1126 215h1v2h-1zM1127 217h1v1h-1zM1128 218h1v2h-1zM1129 220h1v2h-1zM1130 222h1v1h-1zM1131 223h1v2h-1zM1132 225h1v2h-1zM1133 227h1v1h-1zM1134 228h1v1h-1zM1135 229h1v1h-1zM1136 230h1v1h-1zM1137 231h1v2h-1zM1138 233h1v1h-1zM1139 234h1v1h-1zM1140 235h1v1h-1zM1141 236h1v1h-1zM1142 237h1v1h-1zM1143 238h1v1h-1zM1144 239h1v2h-1zM1145 241h1v1h-1zM1146 242h1v1h-1zM1147 243h1v1h-1zM1148 244h1v1h-1zM1149 245h1v1h-1zM1150 246h1v1h-1zM1151 247h1v2h-1zM1152 249h1v1h-1zM1153 250h1v1h-1zM1154 251h1v1h-1zM1155 252h1v1h-1zM1156 253h1v1h-1zM1157 254h1v2h-1zM1158 256h1v1h-1zM1159 257h1v1h-1zM1160 258h1v1h-1zM1161 259h1v2h-1zM1162 261h1v1h-1zM1163 262h1v1h-1zM1164 263h1v2h-1zM1165 265h1v1h-1zM1166 266h1v2h-1zM1167 268h1v1h-1zM1168 269h1v1h-1zM1169 270h1v2h-1zM1170 272h1v1h-1zM1171 273h1v1h-1zM1172 274h1v2h-1zM1173 276h1v1h-1zM1174 277h1v1h-1zM1175 278h1v1h-1zM1176 279h1v2h-1zM1177 281h1v1h-1zM1178 282h1v1h-1zM1179 283h1v1h-1zM1180 284h1v2h-1zM1181 286h1v1h-1zM1182 287h1v1h-1zM1183 288h1v1h-1zM1184 289h1v1h-1zM1185 290h1v1h-1zM1186 291h1v1h-1zM1187 292h1v1h-1zM1188 293h1v1h-1zM1189 294h1v1h-1zM1190 295h1v1h-1zM1191 296h1v1h-1zM1192 297h1v1h-1zM1193 298h1v1h-1zM1194 299h1v1h-1zM1195 300h1v1h-1zM1196 301h1v1h-1zM1197 302h2v1h-2zM1199 303h1v1h-1zM1200 304h1v1h-1zM1201 305h2v1h-2zM1203 306h1v1h-1zM1204 307h1v1h-1zM1205 308h2v1h-2zM1207 309h1v1h-1zM1208 310h1v1h-1zM1209 311h2v1h-2zM1211 312h1v1h-1zM1212 313h2v1h-2zM1214 314h1v1h-1zM1215 315h2v1h-2zM1217 316h1v1h-1zM1218 317h2v1h-2zM1220 318h1v1h-1zM1221 319h1v1h-1zM1222 320h2v1h-2zM1224 321h1v1h-1zM1225 322h1v1h-1zM1226 323h2v1h-2zM1228 324h2v1h-2zM1230 325h3v1h-3zM1233 326h3v1h-3zM1236 327h5v1h-5zM1241 326h5v1h-5zM1245 325h1v1h-1zM1246 323h1v2h-1zM1247 321h1v2h-1zM1248 319h1v2h-1zM1249 316h1v3h-1zM1250 314h1v2h-1zM1251 312h1v2h-1zM1252 310h1v2h-1zM1253 308h1v2h-1zM1254 306h1v2h-1zM1255 304h1v2h-1zM1256 302h1v2h-1zM1257 300h1v2h-1zM1258 298h1v2h-1zM1259 296h1v2h-1zM1260 295h1v1h-1zM1261 294h1v1h-1zM1262 293h1v1h-1zM1263 291h1v2h-1zM1264 290h1v1h-1zM1265 289h1v1h-1zM1266 288h1v1h-1zM1267 287h1v1h-1zM1268 285h1v2h-1zM1269 284h1v1h-1zM1270 283h1v1h-1zM1271 282h1v1h-1zM1272 280h1v2h-1zM1273 279h1v1h-1zM1274 278h1v1h-1zM1275 276h1v2h-1zM1276 275h1v1h-1zM1277 273h1v2h-1zM1278 272h1v1h-1zM1279 271h1v1h-1zM1280 270h1v1h-1zM1281 268h1v2h-1zM1282 267h1v1h-1zM1283 266h1v1h-1zM1284 265h1v1h-1zM1285 264h1v1h-1zM1286 263h1v1h-1zM1287 261h1v2h-1zM1288 260h1v1h-1zM1289 259h1v1h-1zM1290 258h1v1h-1zM1291 257h1v1h-1zM1292 256h1v1h-1zM1293 255h1v1h-1zM1294 253h1v2h-1zM1295 252h1v1h-1zM1296 251h1v1h-1zM1297 250h1v1h-1zM1298 249h1v1h-1zM1299 248h1v1h-1zM1300 247h1v1h-1zM1301 245h1v2h-1zM1302 244h1v1h-1zM1303 243h1v1h-1zM1304 242h1v1h-1zM1305 241h1v1h-1zM1306 239h1v2h-1zM1307 238h1v1h-1zM1308 237h1v1h-1zM1309 236h1v1h-1zM1310 235h1v1h-1zM1311 233h1v2h-1zM1312 232h1v1h-1zM1313 231h1v1h-1zM1314 230h1v1h-1zM1315 228h1v2h-1zM1316 227h1v1h-1zM1317 226h1v1h-1zM1318 224h1v2h-1zM1319 223h1v1h-1zM1320 222h1v1h-1zM1321 221h1v1h-1zM1322 220h1v1h-1zM1323 218h1v2h-1zM1324 217h1v1h-1zM1325 216h1v1h-1zM1326 215h1v1h-1zM1327 214h1v1h-1zM1328 213h1v1h-1zM1329 211h1v2h-1zM1330 210h1v1h-1zM1331 209h1v1h-1zM1332 208h1v1h-1z" fill="#ffa500"/><path d="M4 302h18v1h-18zM22 303h6v1h-6zM28 304h7v1h-7zM35 305h7v1h-7zM42 306h6v1h-6zM48 307h7v1h-7zM55 308h11v1h-11zM66 309h16v1h-16zM82 310h12v1h-12zM94 311h8v1h-8zM102 312h7v1h-7zM109 313h5v1h-5zM114 314h6v1h-6zM120 315h8v1h-8zM128 316h8v1h-8zM136 315h6v1h-6zM142 314h7v1h-7zM149 313h7v1h-7zM156 312h7v1h-7zM163 311h6v1h-6zM169 310h7v1h-7zM176 309h7v1h-7zM183 308h7v1h-7zM190 307h7v1h-7zM197 306h8v1h-8zM205 305h7v1h-7zM212 304h8v1h-8zM220 303h8v1h-8zM228 302h9v1h-9zM237 301h10v1h-10zM247 300h28v1h-28zM275 299h5v1h-5zM280 298h6v1h-6zM286 297h5v1h-5zM291 296h7v1h-7zM298 295h8v1h-8zM306 294h8v1h-8zM314 293h9v1h-9zM323 292h10v1h-10zM333 291h25v1h-25zM358 292h8v1h-8zM366 293h8v1h-8zM374 294h10v1h-10zM384 295h12v1h-12zM396 296h13v1h-13zM409 297h51v1h-51zM460 298h5v1h-5zM465 299h39v1h-39zM504 300h8v1h-8zM512 301h8v1h-8zM520 302h12v1h-12zM532 303h14v1h-14zM546 302h31v1h-31zM577 303h10v1h-10zM587 304h10v1h-10zM597 305h10v1h-10zM607 306h59v1h-59zM666 305h4v1h-4zM670 304h4v1h-4zM674 303h4v1h-4zM678 302h4v1h-4zM682 301h4v1h-4zM686 300h4v1h-4zM690 299h4v1h-4zM694 298h4v1h-4zM698 297h4v1h-4zM702 296h4v1h-4zM706 295h5v1h-5zM711 294h6v1h-6zM717 293h5v1h-5zM722 292h6v1h-6zM728 291h6v1h-6zM734 290h5v1h-5zM739 289h6v1h-6zM745 288h6v1h-6zM751 287h7v1h-7zM758 286h7v1h-7zM765 285h8v1h-8zM773 284h7v1h-7zM780 283h7v1h-7zM787 282h5v1h-5zM792 281h3v1h-3zM795 280h3v1h-3zM798 279h3v1h-3zM801 278h2v1h-2zM803 277h3v1h-3zM806 276h3v1h-3zM809 275h3v1h-3zM812 274h3v1h-3zM815 273h2v1h-2zM817 272h2v1h-2zM819 271h2v1h-2zM821 270h2v1h-2zM823 269h2v1h-2zM825 268h2v1h-2zM827 267h2v1h-2zM829 266h1v1h-1zM830 265h2v1h-2zM832 264h2v1h-2zM834 263h2v1h-2zM836 262h2v1h-2zM838 261h2v1h-2zM840 260h2v1h-2zM842 259h2v1h-2zM844 258h2v1h-2zM846 257h2v1h-2zM848 256h2v1h-2zM850 255h3v1h-3zM853 254h2v1h-2zM855 253h2v1h-2zM857 252h2v1h-2zM859 251h3v1h-3zM862 250h2v1h-2zM864 249h2v1h-2zM866 248h2v1h-2zM868 247h2v1h-2zM870 246h2v1h-2zM872 245h2v1h-2zM874 244h2v1h-2zM876 243h2v1h-2zM878 242h2v1h-2zM880 241h2v1h-2zM882 240h2v1h-2zM884 239h2v1h-2zM886 238h2v1h-2zM888 237h2v1h-2zM890 236h2v1h-2zM892 235h2v1h-2zM894 234h2v1h-2zM896 233h2v1h-2zM898 232h2v1h-2zM900 231h2v1h-2zM902 230h2v1h-2zM904 229h2v1h-2zM906 228h2v1h-2zM908 227h2v1h-2zM910 226h2v1h-2zM912 225h2v1h-2zM914 224h2v1h-2zM916 223h2v1h-2zM918 222h2v1h-2zM920 221h2v1h-2zM922 220h2v1h-2zM924 219h2v1h-2zM926 218h2v1h-2zM928 217h1v1h-1zM929 216h2v1h-2zM931 215h2v1h-2zM933 214h2v1h-2zM935 213h2v1h-2zM937 212h1v1h-1zM938 211h2v1h-2zM940 210h2v1h-2zM942 209h2v1h-2zM944 208h1v1h-1zM945 207h2v1h-2zM947 206h2v1h-2zM949 205h2v1h-2zM951 204h1v1h-1zM952 203h2v1h-2zM954 202h2v1h-2zM956 201h2v1h-2zM958 200h2v1h-2zM960 199h2v1h-2zM962 198h2v1h-2zM964 197h2v1h-2zM966 196h2v1h-2zM968 195h2v1h-2zM970 194h3v1h-3zM973 193h2v1h-2zM975 192h2v1h-2zM977 191h2v1h-2zM979 190h2v1h-2zM981 189h2v1h-2zM983 188h2v1h-2zM985 187h2v1h-2zM987 186h2v1h-2zM989 185h2v1h-2zM991 184h2v1h-2zM993 183h2v1h-2zM995 182h3v1h-3zM998 181h2v1h-2zM1000 180h2v1h-2zM1002 179h2v1h-2zM1004 178h2v1h-2zM1006 177h2v1h-2zM1008 176h2v1h-2zM1010 175h2v1h-2zM1012 174h3v1h-3zM1015 173h2v1h-2zM1017 172h2v1h-2zM1019 171h2v1h-2zM1021 170h3v1h-3zM1024 169h2v1h-2zM1026 168h2v1h-2zM1028 167h3v1h-3zM1031 166h3v1h-3zM1034 165h3v1h-3zM1037 164h2v1h-2zM1039 163h3v1h-3zM1042 162h3v1h-3zM1045 161h3v1h-3zM1048 160h3v1h-3zM1051 159h2v1h-2zM1053 158h3v1h-3zM1056 157h3v1h-3zM1059 156h6v1h-6zM1065 155h14v1h-14zM1079 156h1v1h-1zM1080 157h1v1h-1zM1081 158h1v1h-1zM1082 159h2v1h-2zM1084 160h1v1h-1zM1085 161h1v1h-1zM1086 162h1v1h-1zM1087 163h2v1h-2zM1089 164h2v1h-2zM1091 165h2v1h-2zM1093 166h2v1h-2zM1095 167h2v1h-2zM1097 168h2v1h-2zM1099 169h3v1h-3zM1102 170h2v1h-2zM1104 171h3v1h-3zM1107 172h2v1h-2zM1109 173h2v1h-2zM1111 174h3v1h-3zM1114 175h2v1h-2zM1116 176h3v1h-3zM1119 177h2v1h-2zM1121 178h3v1h-3zM1124 179h3v1h-3zM1127 180h4v1h-4zM1131 181h3v1h-3zM1134 182h3v1h-3zM1137 183h3v1h-3zM1140 184h4v1h-4zM1144 185h3v1h-3zM1147 186h3v1h-3zM1150 187h4v1h-4zM1154 188h4v1h-4zM1158 189h4v1h-4zM1162 190h7v1h-7zM1169 191h10v1h-10zM1179 192h8v1h-8zM1187 193h6v1h-6zM1193 194h17v1h-17zM1210 195h4v1h-4zM1214 196h4v1h-4zM1218 197h8v1h-8zM1226 198h9v1h-9zM1235 199h6v1h-6zM1241 200h8v1h-8zM1249 201h9v1h-9zM1258 202h11v1h-11zM1269 203h9v1h-9zM1278 204h4v1h-4zM1282 205h5v1h-5zM1287 206h46v1h-46z" fill="#ff00ff"/><path d="M4 387h5v1h-5zM9 386h8v1h-8zM17 385h9v1h-9zM26 384h8v1h-8zM34 383h9v1h-9zM43 382h9v1h-9zM52 381h8v1h-8zM60 380h8v1h-8zM68 379h7v1h-7zM75 378h8v1h-8zM83 377h7v1h-7zM90 376h7v1h-7zM97 375h8v1h-8zM105 374h7v1h-7zM112 373h7v1h-7zM119 372h8v1h-8zM127 371h7v1h-7zM134 370h6v1h-6zM140 369h5v1h-5zM145 368h5v1h-5zM150 367h5v1h-5zM155 366h5v1h-5zM160 365h5v1h-5zM165 364h5v1h-5zM170 363h5v1h-5zM175 362h5v1h-5zM180 361h5v1h-5zM185 360h7v1h-7zM192 359h10v1h-10zM202 358h10v1h-10zM212 357h9v1h-9zM221 356h10v1h-10zM231 355h9v1h-9zM240 354h10v1h-10zM250 353h10v1h-10zM260 352h9v1h-9zM269 351h8v1h-8zM277 350h9v1h-9zM286 349h14v1h-14zM300 348h19v1h-19zM319 347h25v1h-25zM344 346h23v1h-23zM367 345h13v1h-13zM380 344h61v1h-61zM441 345h64v1h-64zM504 344h25v1h-25zM528 343h20v1h-20zM548 342h14v1h-14zM562 341h20v1h-20zM582 340h17v1h-17zM599 339h14v1h-14zM613 338h13v1h-13zM626 337h14v1h-14zM640 336h12v1h-12zM652 335h11v1h-11zM663 334h11v1h-11zM674 333h12v1h-12zM686 332h11v1h-11zM697 331h13v1h-13zM710 330h15v1h-15zM725 329h16v1h-16zM741 328h12v1h-12zM753 327h8v1h-8zM761 326h9v1h-9zM770 325h9v1h-9zM779 324h8v1h-8zM787 323h9v1h-9zM796 322h6v1h-6zM802 321h4v1h-4zM806 320h4v1h-4zM810 319h4v1h-4zM814 318h4v1h-4zM818 317h4v1h-4zM822 316h4v1h-4zM826 315h4v1h-4zM830 314h4v1h-4zM834 313h4v1h-4zM838 312h4v1h-4zM842 311h4v1h-4zM846 310h4v1h-4zM850 309h4v1h-4zM854 308h4v1h-4zM858 307h4v1h-4zM862 306h4v1h-4zM866 305h4v1h-4zM870 304h4v1h-4zM874 303h4v1h-4zM878 302h4v1h-4zM882 301h4v1h-4zM886 300h4v1h-4zM890 299h4v1h-4zM894 298h5v1h-5zM899 297h4v1h-4zM903 296h5v1h-5zM908 295h4v1h-4zM912 294h5v1h-5zM917 293h4v1h-4zM921 292h5v1h-5zM926 291h5v1h-5zM931 290h4v1h-4zM935 289h5v1h-5zM940 288h4v1h-4zM944 287h5v1h-5zM949 286h5v1h-5zM954 285h4v1h-4zM958 284h5v1h-5zM963 283h5v1h-5zM968 282h5v1h-5zM973 281h5v1h-5zM978 280h4v1h-4zM982 279h5v1h-5zM987 278h5v1h-5zM992 277h6v1h-6zM998 276h6v1h-6zM1004 275h7v1h-7zM1011 274h6v1h-6zM1017 273h7v1h-7zM1024 272h6v1h-6zM1030 271h6v1h-6zM1036 270h5v1h-5zM1041 269h5v1h-5zM1046 268h6v1h-6zM1052 267h5v1h-5zM1057 266h10v1h-10zM1067 265h12v1h-12zM1079 266h8v1h-8zM1087 267h71v1h-71zM1158 266h80v1h-80zM1238 265h22v1h-22zM1260 264h16v1h-16zM1276 263h8v1h-8zM1284 262h16v1h-16zM1300 261h16v1h-16zM1316 260h17v1h-17z" fill="#ff0000"/><rect x="5" y="91" width="1685" height="2" fill="#ff0000"/><rect x="5" y="135" width="1685" height="2" fill="#00ff7f"/><rect x="5" y="190" width="1685" height="2" fill="#4169e1"/><rect x="5" y="259" width="1685" height="2" fill="#4169e1"/><rect x="5" y="350" width="1685" height="2" fill="#4169e1"/></g><path d="M1347 36h9v1h-1v1h-1v1h-1v1h-1v1h-1v-1h-1v-1h-1v-1h-1v-1h-1z" fill="#778899"/><rect x="5" y="585" width="1" height="1" fill="#c0c0c0"/><rect x="13" y="585" width="1" height="1" fill="#c0c0c0"/><rect x="21" y="585" width="1" height="1" fill="#c0c0c0"/><rect x="29" y="585" width="1" height="2" fill="#c0c0c0"/><rect x="37" y="585" width="1" height="3" fill="#c0c0c0"/><rect x="45" y="585" width="1" height="4" fill="#c0c0c0"/><rect x="53" y="585" width="1" height="4" fill="#c0c0c0"/><rect x="61" y="585" width="1" height="3" fill="#c0c0c0"/><rect x="69" y="585" width="1" height="2" fill="#c0c0c0"/><rect x="77" y="585" width="1" height="1" fill="#c0c0c0"/><rect x="85" y="584" width="1" height="2" fill="#c0c0c0"/><rect x="93" y="583" width="1" height="3" fill="#c0c0c0"/><rect x="101" y="582" width="1" height="4" fill="#c0c0c0"/><rect x="109" y="583" width="1" height="3" fill="#c0c0c0"/><rect x="117" y="584" width="1" height="2" fill="#c0c0c0"/><rect x="125" y="584" width="1" height="2" fill="#c0c0c0"/><rect x="133" y="585" width="1" height="1" fill="#c0c0c0"/><rect x="141" y="583" width="1" height="3" fill="#c0c0c0"/><rect x="149" y="581" width="1" height="5" fill="#c0c0c0"/><rect x="157" y="576" width="1" height="10" fill="#c0c0c0"/><rect x="165" y="574" width="1" height="12" fill="#c0c0c0"/><rect x="173" y="570" width="1" height="16" fill="#c0c0c0"/><rect x="181" y="568" width="1" height="18" fill="#c0c0c0"/><rect x="189" y="567" width="1" height="19" fill="#c0c0c0"/><rect x="197" y="567" width="1" height="19" fill="#c0c0c0"/><rect x="205" y="567" width="1" height="19" fill="#c0c0c0"/><rect x="213" y="567" width="1" height="19" fill="#c0c0c0"/><rect x="221" y="566" width="1" height="20" fill="#c0c0c0"/><rect x="229" y="567" width="1" height="19" fill="#c0c0c0"/><rect x="237" y="572" width="1" height="14" fill="#c0c0c0"/><rect x="245" y="576" width="1" height="10" fill="#c0c0c0"/><rect x="253" y="580" width="1" height="6" fill="#c0c0c0"/><rect x="261" y="583" width="1" height="3" fill="#c0c0c0"/><rect x="269" y="585" width="1" height="1" fill="#c0c0c0"/><rect x="277" y="585" width="1" height="1" fill="#c0c0c0"/><rect x="285" y="585" width="1" height="2" fill="#c0c0c0"/><rect x="293" y="585" width="1" height="4" fill="#c0c0c0"/><rect x="301" y="585" width="1" height="4" fill="#c0c0c0"/><rect x="309" y="585" width="1" height="6" fill="#c0c0c0"/><rect x="317" y="585" width="1" height="5" fill="#c0c0c0"/><rect x="325" y="585" width="1" height="4" fill="#c0c0c0"/><rect x="333" y="585" width="1" height="3" fill="#c0c0c0"/><rect x="341" y="585" width="1" height="1" fill="#c0c0c0"/><rect x="349" y="585" width="1" height="1" fill="#c0c0c0"/><rect x="357" y="585" width="1" height="1" fill="#c0c0c0"/><rect x="365" y="585" width="1" height="4" fill="#c0c0c0"/><rect x="373" y="585" width="1" height="4" fill="#c0c0c0"/><rect x="381" y="585" width="1" height="7" fill="#c0c0c0"/><rect x="389" y="585" width="1" height="9" fill="#c0c0c0"/><rect x="397" y="585" width="1" height="10" fill="#c0c0c0"/><rect x="405" y="585" width="1" height="10" fill="#c0c0c0"/><rect x="413" y="585" width="1" height="10" fill="#c0c0c0"/><rect x="421" y="585" width="1" height="9" fill="#c0c0c0"/><rect x="429" y="585" width="1" height="9" fill="#c0c0c0"/><rect x="437" y="585" width="1" height="8" fill="#c0c0c0"/><rect x="445" y="585" width="1" height="8" fill="#c0c0c0"/><rect x="453" y="585" width="1" height="8" fill="#c0c0c0"/><rect x="461" y="585" width="1" height="10" fill="#c0c0c0"/><rect x="469" y="585" width="1" height="11" fill="#c0c0c0"/><rect x="477" y="585" width="1" height="12" fill="#c0c0c0"/><rect x="485" y="585" width="1" height="12" fill="#c0c0c0"/><rect x="493" y="585" width="1" height="11" fill="#c0c0c0"/><rect x="501" y="585" width="1" height="11" fill="#c0c0c0"/><rect x="509" y="585" width="1" height="12" fill="#c0c0c0"/><rect x="517" y="585" width="1" height="10" fill="#c0c0c0"/><rect x="525" y="585" width="1" height="9" fill="#c0c0c0"/><rect x="533" y="585" width="1" height="7" fill="#c0c0c0"/><rect x="541" y="585" width="1" height="5" fill="#c0c0c0"/><rect x="549" y="585" width="1" height="2" fill="#c0c0c0"/><rect x="557" y="585" width="1" height="1" fill="#c0c0c0"/><rect x="565" y="585" width="1" height="1" fill="#c0c0c0"/><rect x="573" y="584" width="1" height="2" fill="#c0c0c0"/><rect x="581" y="583" width="1" height="3" fill="#c0c0c0"/><rect x="589" y="582" width="1" height="4" fill="#c0c0c0"/><rect x="597" y="581" width="1" height="5" fill="#c0c0c0"/><rect x="605" y="581" width="1" height="5" fill="#c0c0c0"/><rect x="613" y="581" width="1" height="5" fill="#c0c0c0"/><rect x="621" y="578" width="1" height="8" fill="#c0c0c0"/><rect x="629" y="575" width="1" height="11" fill="#c0c0c0"/><rect x="637" y="572" width="1" height="14" fill="#c0c0c0"/><rect x="645" y="570" width="1" height="16" fill="#c0c0c0"/><rect x="653" y="565" width="1" height="21" fill="#c0c0c0"/><rect x="661" y="562" width="1" height="24" fill="#c0c0c0"/><rect x="669" y="559" width="1" height="27" fill="#c0c0c0"/><rect x="677" y="557" width="1" height="29" fill="#c0c0c0"/><rect x="685" y="557" width="1" height="29" fill="#c0c0c0"/><rect x="693" y="556" width="1" height="30" fill="#c0c0c0"/><rect x="701" y="556" width="1" height="30" fill="#c0c0c0"/><rect x="709" y="557" width="1" height="29" fill="#c0c0c0"/><rect x="717" y="558" width="1" height="28" fill="#c0c0c0"/><rect x="725" y="562" width="1" height="24" fill="#c0c0c0"/><rect x="733" y="565" width="1" height="21" fill="#c0c0c0"/><rect x="741" y="567" width="1" height="19" fill="#c0c0c0"/><rect x="749" y="569" width="1" height="17" fill="#c0c0c0"/><rect x="757" y="570" width="1" height="16" fill="#c0c0c0"/><rect x="765" y="570" width="1" height="16" fill="#c0c0c0"/><rect x="773" y="570" width="1" height="16" fill="#c0c0c0"/><rect x="781" y="568" width="1" height="18" fill="#c0c0c0"/><rect x="789" y="569" width="1" height="17" fill="#c0c0c0"/><rect x="797" y="566" width="1" height="20" fill="#c0c0c0"/><rect x="805" y="565" width="1" height="21" fill="#c0c0c0"/><rect x="813" y="564" width="1" height="22" fill="#c0c0c0"/><rect x="821" y="562" width="1" height="24" fill="#c0c0c0"/><rect x="829" y="558" width="1" height="28" fill="#c0c0c0"/><rect x="837" y="556" width="1" height="30" fill="#c0c0c0"/><rect x="845" y="555" width="1" height="31" fill="#c0c0c0"/><rect x="853" y="554" width="1" height="32" fill="#c0c0c0"/><rect x="861" y="553" width="1" height="33" fill="#c0c0c0"/><rect x="869" y="554" width="1" height="32" fill="#c0c0c0"/><rect x="877" y="554" width="1" height="32" fill="#c0c0c0"/><rect x="885" y="555" width="1" height="31" fill="#c0c0c0"/><rect x="893" y="556" width="1" height="30" fill="#c0c0c0"/><rect x="901" y="559" width="1" height="27" fill="#c0c0c0"/><rect x="909" y="560" width="1" height="26" fill="#c0c0c0"/><rect x="917" y="560" width="1" height="26" fill="#c0c0c0"/><rect x="925" y="561" width="1" height="25" fill="#c0c0c0"/><rect x="933" y="562" width="1" height="24" fill="#c0c0c0"/><rect x="941" y="562" width="1" height="24" fill="#c0c0c0"/><rect x="949" y="560" width="1" height="26" fill="#c0c0c0"/><rect x="957" y="560" width="1" height="26" fill="#c0c0c0"/><rect x="965" y="560" width="1" height="26" fill="#c0c0c0"/><rect x="973" y="562" width="1" height="24" fill="#c0c0c0"/><rect x="981" y="564" width="1" height="22" fill="#c0c0c0"/><rect x="989" y="566" width="1" height="20" fill="#c0c0c0"/><rect x="997" y="568" width="1" height="18" fill="#c0c0c0"/><rect x="1005" y="569" width="1" height="17" fill="#c0c0c0"/><rect x="1013" y="570" width="1" height="16" fill="#c0c0c0"/><rect x="1021" y="570" width="1" height="16" fill="#c0c0c0"/><rect x="1029" y="570" width="1" height="16" fill="#c0c0c0"/><rect x="1037" y="573" width="1" height="13" fill="#c0c0c0"/><rect x="1045" y="576" width="1" height="10" fill="#c0c0c0"/><rect x="1053" y="580" width="1" height="6" fill="#c0c0c0"/><rect x="1061" y="581" width="1" height="5" fill="#c0c0c0"/><rect x="1069" y="585" width="1" height="1" fill="#c0c0c0"/><rect x="1077" y="585" width="1" height="8" fill="#c0c0c0"/><rect x="1085" y="585" width="1" height="34" fill="#c0c0c0"/><rect x="1093" y="585" width="1" height="55" fill="#c0c0c0"/><rect x="1101" y="585" width="1" height="63" fill="#c0c0c0"/><rect x="1109" y="585" width="1" height="67" fill="#c0c0c0"/><rect x="1117" y="585" width="1" height="67" fill="#c0c0c0"/><rect x="1125" y="585" width="1" height="67" fill="#c0c0c0"/><rect x="1133" y="585" width="1" height="64" fill="#c0c0c0"/><rect x="1141" y="585" width="1" height="59" fill="#c0c0c0"/><rect x="1149" y="585" width="1" height="55" fill="#c0c0c0"/><rect x="1157" y="585" width="1" height="50" fill="#c0c0c0"/><rect x="1165" y="585" width="1" height="47" fill="#c0c0c0"/><rect x="1173" y="585" width="1" height="42" fill="#c0c0c0"/><rect x="1181" y="585" width="1" height="37" fill="#c0c0c0"/><rect x="1189" y="585" width="1" height="31" fill="#c0c0c0"/><rect x="1197" y="585" width="1" height="26" fill="#c0c0c0"/><rect x="1205" y="585" width="1" height="21" fill="#c0c0c0"/><rect x="1213" y="585" width="1" height="17" fill="#c0c0c0"/><rect x="1221" y="585" width="1" height="14" fill="#c0c0c0"/><rect x="1229" y="585" width="1" height="9" fill="#c0c0c0"/><rect x="1237" y="585" width="1" height="6" fill="#c0c0c0"/><rect x="1245" y="585" width="1" height="1" fill="#c0c0c0"/><rect x="1253" y="580" width="1" height="6" fill="#c0c0c0"/><rect x="1261" y="577" width="1" height="9" fill="#c0c0c0"/><rect x="1269" y="574" width="1" height="12" fill="#c0c0c0"/><rect x="1277" y="571" width="1" height="15" fill="#c0c0c0"/><rect x="1285" y="570" width="1" height="16" fill="#c0c0c0"/><rect x="1293" y="567" width="1" height="19" fill="#c0c0c0"/><rect x="1301" y="563" width="1" height="23" fill="#c0c0c0"/><rect x="1309" y="558" width="1" height="28" fill="#c0c0c0"/><rect x="1317" y="554" width="1" height="32" fill="#c0c0c0"/><rect x="1325" y="554" width="1" height="32" fill="#c0c0c0"/><rect x="1333" y="554" width="1" height="32" fill="#c0c0c0"/><path d="M5 578h3v1h-3zM11 579h3v1h-3zM17 580h3v1h-3zM23 580h1v1h-1zM24 581h2v1h-2zM29 581h3v1h-3zM35 582h3v1h-3zM41 583h3v1h-3zM47 584h3v1h-3zM53 585h3v1h-3zM59 585h3v1h-3zM65 586h3v1h-3zM71 586h3v1h-3zM77 586h3v1h-3zM83 586h3v1h-3zM89 586h3v1h-3zM95 586h3v1h-3zM101 586h3v1h-3zM107 586h2v1h-2zM109 585h1v1h-1zM113 585h3v1h-3zM119 584h3v1h-3zM125 584h3v1h-3zM131 584h1v1h-1zM132 583h2v1h-2zM137 583h3v1h-3zM143 583h1v1h-1zM144 582h2v1h-2zM149 582h3v1h-3zM155 581h3v1h-3zM161 580h3v1h-3zM167 580h1v1h-1zM168 579h2v1h-2zM173 579h1v1h-1zM174 578h2v1h-2zM179 577h3v1h-3zM185 576h1v1h-1zM186 575h2v1h-2zM191 574h2v1h-2zM193 573h1v1h-1zM197 572h3v1h-3zM203 570h3v1h-3zM209 569h3v1h-3zM215 569h1v1h-1zM216 568h2v1h-2zM221 568h3v1h-3zM227 567h3v1h-3zM233 567h3v1h-3zM239 567h1v1h-1zM240 568h2v1h-2zM245 568h3v1h-3zM251 569h3v1h-3zM257 570h3v1h-3zM263 571h2v1h-2zM265 572h1v1h-1zM269 573h3v1h-3zM275 574h3v1h-3zM281 575h1v1h-1zM282 576h2v1h-2zM287 578h3v1h-3zM293 580h3v1h-3zM299 581h1v1h-1zM300 582h2v1h-2zM305 583h2v1h-2zM307 584h1v1h-1zM311 585h3v1h-3zM317 586h3v1h-3zM323 587h3v1h-3zM329 587h3v1h-3zM335 588h3v1h-3zM341 588h3v1h-3zM347 588h3v1h-3zM353 588h3v1h-3zM359 588h3v1h-3zM365 588h3v1h-3zM371 588h3v1h-3zM377 588h3v1h-3zM383 588h3v1h-3zM389 588h2v1h-2zM391 589h1v1h-1zM395 589h3v1h-3zM401 590h3v1h-3zM407 590h3v1h-3zM413 591h3v1h-3zM419 591h2v1h-2zM421 592h1v1h-1zM425 592h3v1h-3zM431 593h3v1h-3zM437 593h3v1h-3zM443 594h3v1h-3zM449 594h3v1h-3zM455 594h2v1h-2zM457 595h1v1h-1zM461 595h3v1h-3zM467 595h3v1h-3zM473 595h3v1h-3zM479 595h3v1h-3zM485 595h3v1h-3zM491 595h3v1h-3zM497 595h3v1h-3zM503 595h3v1h-3zM509 595h1v1h-1zM510 596h2v1h-2zM515 596h3v1h-3zM521 596h3v1h-3zM527 596h3v1h-3zM533 596h3v1h-3zM539 595h3v1h-3zM545 594h1v1h-1zM546 593h2v1h-2zM551 592h3v1h-3zM557 591h3v1h-3zM563 590h3v1h-3zM569 589h3v1h-3zM575 588h3v1h-3zM581 587h3v1h-3zM587 586h3v1h-3zM593 585h3v1h-3zM599 584h2v1h-2zM601 583h1v1h-1zM605 583h1v1h-1zM606 582h2v1h-2zM611 582h1v1h-1zM612 581h2v1h-2zM617 581h3v1h-3zM623 580h3v1h-3zM629 579h3v1h-3zM635 579h1v1h-1zM636 578h2v1h-2zM641 578h1v1h-1zM642 577h2v1h-2zM647 576h3v1h-3zM653 575h1v1h-1zM654 574h2v1h-2zM659 573h1v1h-1zM660 572h2v1h-2zM665 571h2v1h-2zM667 570h1v1h-1zM671 569h3v1h-3zM677 568h2v1h-2zM679 567h1v1h-1zM683 565h2v1h-2zM685 564h1v1h-1zM689 563h3v1h-3zM695 562h1v1h-1zM696 561h2v1h-2zM701 560h2v1h-2zM703 559h1v1h-1zM707 558h3v1h-3zM713 557h3v1h-3zM719 557h3v1h-3zM725 556h3v1h-3zM731 557h2v1h-2zM733 558h1v1h-1zM737 558h1v1h-1zM738 559h2v1h-2zM743 559h1v1h-1zM744 560h2v1h-2zM749 560h1v1h-1zM750 561h2v1h-2zM755 561h2v1h-2zM757 562h1v1h-1zM761 562h3v1h-3zM767 563h3v1h-3zM773 564h3v1h-3zM779 565h3v1h-3zM785 566h1v1h-1zM786 567h2v1h-2zM791 567h3v1h-3zM797 567h3v1h-3zM803 567h3v1h-3zM809 567h3v1h-3zM815 567h1v1h-1zM816 566h2v1h-2zM821 566h1v1h-1zM822 565h2v1h-2zM827 565h2v1h-2zM829 564h1v1h-1zM833 564h2v1h-2zM835 563h1v1h-1zM839 563h1v1h-1zM840 562h2v1h-2zM845 561h3v1h-3zM851 560h3v1h-3zM857 559h3v1h-3zM863 558h3v1h-3zM869 557h3v1h-3zM875 556h3v1h-3zM881 555h3v1h-3zM887 555h1v1h-1zM888 554h2v1h-2zM893 554h3v1h-3zM899 554h3v1h-3zM905 554h3v1h-3zM911 554h3v1h-3zM917 555h3v1h-3zM923 556h3v1h-3zM929 557h3v1h-3zM935 557h3v1h-3zM941 558h3v1h-3zM947 558h3v1h-3zM953 559h3v1h-3zM959 559h3v1h-3zM965 559h3v1h-3zM971 560h3v1h-3zM977 560h3v1h-3zM983 560h3v1h-3zM989 561h3v1h-3zM995 562h3v1h-3zM1001 563h3v1h-3zM1007 563h3v1h-3zM1013 564h3v1h-3zM1019 564h3v1h-3zM1025 565h3v1h-3zM1031 566h3v1h-3zM1037 567h3v1h-3zM1043 568h3v1h-3zM1049 569h2v1h-2zM1051 570h1v1h-1zM1055 570h1v1h-1zM1056 571h2v1h-2zM1061 572h3v1h-3zM1067 574h3v1h-3zM1073 576h3v1h-3zM1079 578h2v1h-2zM1081 579h1v1h-1zM1085 582h1v1h-1zM1086 583h1v1h-1zM1087 584h1v1h-1zM1091 587h1v1h-1zM1092 588h1v1h-1zM1093 589h1v1h-1zM1096 593h1v1h-1zM1097 594h1v1h-1zM1098 595h1v1h-1zM1102 599h1v1h-1zM1103 600h1v1h-1zM1104 601h1v1h-1zM1107 605h1v1h-1zM1108 606h1v1h-1zM1109 607h1v1h-1zM1112 611h1v1h-1zM1113 612h1v1h-1zM1114 613h1v1h-1zM1118 617h1v1h-1zM1119 618h1v1h-1zM1120 619h1v1h-1zM1123 623h1v1h-1zM1124 624h1v1h-1zM1125 625h1v1h-1zM1129 628h1v1h-1zM1130 629h1v1h-1zM1131 630h1v1h-1zM1135 634h1v1h-1zM1136 635h2v1h-2zM1141 639h2v1h-2zM1143 640h1v1h-1zM1147 642h1v1h-1zM1148 643h2v1h-2zM1153 645h3v1h-3zM1159 646h2v1h-2zM1161 645h1v1h-1zM1165 644h3v1h-3zM1171 643h2v1h-2zM1173 642h1v1h-1zM1177 640h2v1h-2zM1179 639h1v1h-1zM1183 637h2v1h-2zM1185 636h1v1h-1zM1189 634h2v1h-2zM1191 633h1v1h-1zM1195 631h1v1h-1zM1196 630h2v1h-2zM1201 627h2v1h-2zM1203 626h1v1h-1zM1207 624h1v1h-1zM1208 623h2v1h-2zM1213 620h2v1h-2zM1215 619h1v1h-1zM1219 617h2v1h-2zM1221 616h1v1h-1zM1225 614h2v1h-2zM1227 613h1v1h-1zM1231 611h2v1h-2zM1233 610h1v1h-1zM1237 608h1v1h-1zM1238 607h2v1h-2zM1243 604h2v1h-2zM1245 603h1v1h-1zM1249 601h1v1h-1zM1250 600h1v1h-1zM1251 599h1v1h-1zM1255 597h2v1h-2zM1257 596h1v1h-1zM1261 594h1v1h-1zM1262 593h2v1h-2zM1267 591h1v1h-1zM1268 590h2v1h-2zM1273 587h2v1h-2zM1275 586h1v1h-1zM1279 584h2v1h-2zM1281 583h1v1h-1zM1285 581h2v1h-2zM1287 580h1v1h-1zM1291 579h1v1h-1zM1292 578h2v1h-2zM1297 576h1v1h-1zM1298 575h2v1h-2zM1303 573h2v1h-2zM1305 572h1v1h-1zM1309 570h3v1h-3zM1315 568h3v1h-3zM1321 566h2v1h-2zM1323 565h1v1h-1zM1327 564h2v1h-2zM1329 563h1v1h-1z" fill="#ff0000"/><line x1="6" y1="694.5" x2="1690" y2="694.5" stroke="#c0c0c0" stroke-width="1" stroke-dasharray="3 3"/><line x1="6" y1="738.5" x2="1690" y2="738.5" stroke="#c0c0c0" stroke-width="1" stroke-dasharray="3 3"/><path d="M5 722h4v1h-4zM9 723h5v1h-5zM14 722h2v1h-2zM16 721h2v1h-2zM18 720h2v1h-2zM20 719h3v1h-3zM23 720h2v1h-2zM25 721h3v1h-3zM28 722h11v1h-11zM39 723h4v1h-4zM43 724h3v1h-3zM46 723h2v1h-2zM48 722h2v1h-2zM50 721h2v1h-2zM52 720h5v1h-5zM57 721h5v1h-5zM62 720h1v1h-1zM63 719h1v1h-1zM64 718h1v1h-1zM65 716h1v2h-1zM66 715h1v1h-1zM67 714h1v1h-1zM68 713h1v1h-1zM69 712h1v1h-1zM70 711h2v1h-2zM72 710h1v1h-1zM73 709h2v1h-2zM75 708h2v1h-2zM77 707h4v1h-4zM81 708h8v1h-8zM89 709h6v1h-6zM95 710h2v1h-2zM97 711h3v1h-3zM100 712h2v1h-2zM102 713h1v1h-1zM103 714h1v1h-1zM104 715h1v1h-1zM105 716h2v1h-2zM107 717h1v1h-1zM108 718h1v1h-1zM109 719h4v1h-4zM113 720h6v1h-6zM119 719h4v1h-4zM123 718h6v1h-6zM129 719h5v1h-5zM134 717h1v2h-1zM135 715h1v2h-1zM136 713h1v2h-1zM137 712h1v1h-1zM138 710h1v2h-1zM139 708h1v2h-1zM140 706h1v2h-1zM141 705h1v1h-1zM142 704h2v1h-2zM144 703h2v1h-2zM146 702h2v1h-2zM148 701h3v1h-3zM151 700h2v1h-2zM153 699h3v1h-3zM156 698h10v1h-10zM166 697h1v1h-1zM167 696h2v1h-2zM169 695h1v1h-1zM170 694h1v1h-1zM171 693h2v1h-2zM173 692h1v1h-1zM174 693h1v1h-1zM175 694h2v1h-2zM177 695h1v1h-1zM178 696h1v1h-1zM179 697h2v1h-2zM181 698h9v1h-9zM190 699h2v1h-2zM192 700h1v1h-1zM193 701h2v1h-2zM195 702h2v1h-2zM197 703h2v1h-2zM199 704h2v1h-2zM201 705h3v1h-3zM204 706h3v1h-3zM207 705h2v1h-2zM209 704h3v1h-3zM212 703h2v1h-2zM214 702h2v1h-2zM216 701h2v1h-2zM218 700h2v1h-2zM220 699h2v1h-2zM222 700h1v2h-1zM223 702h1v1h-1zM224 703h1v2h-1zM225 705h1v1h-1zM226 706h1v2h-1zM227 708h1v1h-1zM228 709h1v2h-1zM229 711h1v1h-1zM230 712h1v1h-1zM231 713h1v1h-1zM232 714h1v1h-1zM233 715h1v2h-1zM234 717h1v1h-1zM235 718h1v1h-1zM236 719h1v1h-1zM237 720h1v1h-1zM238 721h2v1h-2zM240 722h2v1h-2zM242 723h2v1h-2zM244 724h3v1h-3zM247 725h4v1h-4zM251 726h6v1h-6zM257 725h8v1h-8zM265 724h16v1h-16zM281 725h14v1h-14zM295 724h4v1h-4zM299 723h3v1h-3zM302 724h1v1h-1zM303 725h2v1h-2zM305 726h1v1h-1zM306 727h1v1h-1zM307 728h2v1h-2zM309 729h1v1h-1zM310 727h1v2h-1zM311 726h1v1h-1zM312 725h1v1h-1zM313 723h1v2h-1zM314 722h1v1h-1zM315 721h1v1h-1zM316 719h1v2h-1zM317 718h4v1h-4zM321 719h5v1h-5zM326 718h1v1h-1zM327 717h2v1h-2zM329 716h1v1h-1zM330 715h1v1h-1zM331 714h2v1h-2zM333 713h1v1h-1zM334 712h2v1h-2zM336 711h1v1h-1zM337 710h2v1h-2zM339 709h2v1h-2zM341 708h1v1h-1zM342 709h1v1h-1zM343 710h1v1h-1zM344 711h1v1h-1zM345 712h2v1h-2zM347 713h1v1h-1zM348 714h1v1h-1zM349 715h1v1h-1zM350 716h2v1h-2zM352 717h1v1h-1zM353 718h2v1h-2zM355 719h2v1h-2zM357 720h1v1h-1zM358 721h2v1h-2zM360 722h2v1h-2zM362 723h2v1h-2zM364 724h10v1h-10zM374 725h1v1h-1zM375 726h1v1h-1zM376 727h1v1h-1zM377 728h2v1h-2zM379 729h1v1h-1zM380 730h1v1h-1zM381 731h2v1h-2zM383 732h4v1h-4zM387 733h3v1h-3zM390 732h1v1h-1zM391 731h2v1h-2zM393 730h1v1h-1zM394 729h1v1h-1zM395 728h2v1h-2zM397 727h2v1h-2zM399 726h2v1h-2zM401 725h3v1h-3zM404 724h11v1h-11zM415 723h4v1h-4zM419 722h4v1h-4zM423 721h4v1h-4zM427 720h4v1h-4zM431 721h4v1h-4zM435 722h6v1h-6zM441 723h8v1h-8zM449 724h5v1h-5zM454 725h1v1h-1zM455 726h1v2h-1zM456 728h1v1h-1zM457 729h1v1h-1zM458 730h1v1h-1zM459 731h1v2h-1zM460 733h1v1h-1zM461 734h9v1h-9zM470 733h1v1h-1zM471 732h2v1h-2zM473 731h1v1h-1zM474 730h1v1h-1zM475 729h2v1h-2zM477 728h4v1h-4zM481 729h6v1h-6zM487 728h4v1h-4zM491 727h3v1h-3zM494 726h2v1h-2zM496 725h2v1h-2zM498 724h2v1h-2zM500 723h3v1h-3zM503 724h2v1h-2zM505 725h3v1h-3zM508 726h3v1h-3zM511 725h2v1h-2zM513 724h3v1h-3zM516 723h2v1h-2zM518 722h2v1h-2zM520 721h2v1h-2zM522 720h2v1h-2zM524 719h2v1h-2zM526 718h1v1h-1zM527 717h2v1h-2zM529 716h1v1h-1zM530 715h1v1h-1zM531 714h2v1h-2zM533 713h2v1h-2zM535 712h2v1h-2zM537 711h3v1h-3zM540 710h2v1h-2zM542 709h2v1h-2zM544 708h1v1h-1zM545 707h2v1h-2zM547 706h2v1h-2zM549 705h1v1h-1zM550 706h2v1h-2zM552 707h2v1h-2zM554 708h2v1h-2zM556 709h13v1h-13zM569 710h6v1h-6zM575 709h4v1h-4zM579 708h12v1h-12zM591 707h4v1h-4zM595 706h4v1h-4zM599 707h4v1h-4zM603 708h3v1h-3zM606 709h2v1h-2zM608 710h1v1h-1zM609 711h2v1h-2zM611 712h2v1h-2zM613 712h1v2h-1zM614 710h1v2h-1zM615 708h1v2h-1zM616 706h1v2h-1zM617 704h1v2h-1zM618 702h1v2h-1zM619 700h1v2h-1zM620 698h1v2h-1zM621 696h1v2h-1zM622 695h2v1h-2zM624 694h2v1h-2zM626 693h2v1h-2zM628 692h5v1h-5zM633 693h6v1h-6zM639 692h4v1h-4zM643 691h3v1h-3zM646 690h1v1h-1zM647 689h1v1h-1zM648 688h1v1h-1zM649 687h2v1h-2zM651 686h1v1h-1zM652 685h1v1h-1zM653 684h12v1h-12zM665 683h5v1h-5zM670 684h1v1h-1zM671 685h1v1h-1zM672 686h1v1h-1zM673 687h2v1h-2zM675 688h1v1h-1zM676 689h1v1h-1zM677 690h12v1h-12zM689 689h6v1h-6zM695 688h4v1h-4zM699 687h3v1h-3zM702 688h1v1h-1zM703 689h1v1h-1zM704 690h1v1h-1zM705 691h1v2h-1zM706 693h1v1h-1zM707 694h1v1h-1zM708 695h1v1h-1zM709 696h1v1h-1zM710 697h2v1h-2zM712 698h1v1h-1zM713 699h2v1h-2zM715 700h2v1h-2zM717 701h1v1h-1zM718 702h1v2h-1zM719 704h1v2h-1zM720 706h1v2h-1zM721 708h1v1h-1zM722 709h1v2h-1zM723 711h1v2h-1zM724 713h1v2h-1zM725 715h2v1h-2zM727 714h2v1h-2zM729 713h3v1h-3zM732 712h3v1h-3zM735 711h4v1h-4zM739 710h6v1h-6zM745 709h13v1h-13zM758 708h2v1h-2zM760 707h2v1h-2zM762 706h2v1h-2zM764 705h2v1h-2zM766 704h2v1h-2zM768 703h2v1h-2zM770 702h2v1h-2zM772 701h2v1h-2zM774 700h1v1h-1zM775 699h1v1h-1zM776 698h1v1h-1zM777 697h1v1h-1zM778 696h1v1h-1zM779 695h1v1h-1zM780 694h1v1h-1zM781 693h1v1h-1zM782 694h1v2h-1zM783 696h1v2h-1zM784 698h1v2h-1zM785 700h1v2h-1zM786 702h1v2h-1zM787 704h1v2h-1zM788 706h1v2h-1zM789 708h1v2h-1zM790 708h1v1h-1zM791 706h1v2h-1zM792 705h1v1h-1zM793 704h1v1h-1zM794 703h1v1h-1zM795 701h1v2h-1zM796 700h1v1h-1zM797 699h18v1h-18zM815 698h2v1h-2zM817 697h3v1h-3zM820 696h2v1h-2zM822 695h1v1h-1zM823 694h2v1h-2zM825 693h1v1h-1zM826 692h1v1h-1zM827 691h2v1h-2zM829 690h4v1h-4zM833 691h6v1h-6zM839 692h2v1h-2zM841 693h3v1h-3zM844 694h11v1h-11zM855 693h2v1h-2zM857 692h3v1h-3zM860 691h2v1h-2zM862 692h1v2h-1zM863 694h1v1h-1zM864 695h1v2h-1zM865 697h1v1h-1zM866 698h1v2h-1zM867 700h1v1h-1zM868 701h1v2h-1zM869 703h1v1h-1zM870 702h2v1h-2zM872 701h2v1h-2zM874 700h2v1h-2zM876 699h10v1h-10zM886 700h2v1h-2zM888 701h2v1h-2zM890 702h2v1h-2zM892 703h2v1h-2zM894 704h1v1h-1zM895 705h2v1h-2zM897 706h1v1h-1zM898 707h1v1h-1zM899 708h2v1h-2zM901 709h1v1h-1zM902 708h2v1h-2zM904 707h1v1h-1zM905 706h2v1h-2zM907 705h2v1h-2zM909 704h2v1h-2zM911 703h4v1h-4zM915 702h4v1h-4zM919 703h4v1h-4zM923 704h6v1h-6zM929 703h6v1h-6zM935 702h4v1h-4zM939 701h3v1h-3zM942 700h2v1h-2zM944 699h1v1h-1zM945 698h2v1h-2zM947 697h2v1h-2zM949 696h10v1h-10zM959 697h2v1h-2zM961 698h3v1h-3zM964 699h2v1h-2zM966 700h1v2h-1zM967 702h1v1h-1zM968 703h1v1h-1zM969 704h1v2h-1zM970 706h1v1h-1zM971 707h1v1h-1zM972 708h1v2h-1zM973 710h4v1h-4zM977 709h16v1h-16zM993 708h8v1h-8zM1001 709h8v1h-8zM1009 708h5v1h-5zM1014 707h1v1h-1zM1015 706h2v1h-2zM1017 705h1v1h-1zM1018 704h1v1h-1zM1019 703h2v1h-2zM1021 702h4v1h-4zM1025 701h5v1h-5zM1029 702h1v1h-1zM1030 703h1v2h-1zM1031 705h1v2h-1zM1032 707h1v3h-1zM1033 710h1v2h-1zM1034 712h1v3h-1zM1035 715h1v2h-1zM1036 717h1v2h-1zM1037 719h1v2h-1zM1038 720h1v1h-1zM1039 721h2v1h-2zM1041 722h3v1h-3zM1044 723h3v1h-3zM1047 724h4v1h-4zM1051 725h3v1h-3zM1054 724h1v1h-1zM1055 723h1v1h-1zM1056 722h1v1h-1zM1057 721h2v1h-2zM1059 720h1v1h-1zM1060 719h1v1h-1zM1061 718h1v1h-1zM1062 719h1v2h-1zM1063 721h1v2h-1zM1064 723h1v2h-1zM1065 725h1v2h-1zM1066 727h1v2h-1zM1067 729h1v2h-1zM1068 731h1v2h-1zM1069 733h1v1h-1zM1070 734h1v1h-1zM1071 735h2v1h-2zM1073 736h1v1h-1zM1074 737h1v1h-1zM1075 738h2v1h-2zM1077 739h1v2h-1zM1078 741h1v2h-1zM1079 743h1v2h-1zM1080 745h1v2h-1zM1081 747h1v3h-1zM1082 750h1v2h-1zM1083 752h1v2h-1zM1084 754h1v2h-1zM1085 756h1v2h-1zM1086 757h8v1h-8zM1093 756h1v1h-1zM1094 754h1v2h-1zM1095 752h1v2h-1zM1096 750h1v2h-1zM1097 747h1v3h-1zM1098 745h1v2h-1zM1099 743h1v2h-1zM1100 741h1v2h-1zM1101 739h1v2h-1zM1102 738h2v1h-2zM1104 737h2v1h-2zM1106 736h2v1h-2zM1108 735h2v1h-2zM1110 734h2v1h-2zM1112 733h2v1h-2zM1114 732h2v1h-2zM1116 731h5v1h-5zM1121 732h5v1h-5zM1126 731h2v1h-2zM1128 730h1v1h-1zM1129 729h2v1h-2zM1131 728h2v1h-2zM1133 727h1v1h-1zM1134 726h2v1h-2zM1136 725h2v1h-2zM1138 724h2v1h-2zM1140 723h3v1h-3zM1143 724h4v1h-4zM1147 725h4v1h-4zM1151 724h2v1h-2zM1153 723h3v1h-3zM1156 722h3v1h-3zM1159 723h4v1h-4zM1163 724h4v1h-4zM1167 723h4v1h-4zM1171 722h3v1h-3zM1174 721h2v1h-2zM1176 720h2v1h-2zM1178 719h2v1h-2zM1180 718h11v1h-11zM1191 717h4v1h-4zM1195 716h4v1h-4zM1199 715h4v1h-4zM1203 714h4v1h-4zM1207 715h4v1h-4zM1211 716h11v1h-11zM1222 715h2v1h-2zM1224 714h2v1h-2zM1226 713h2v1h-2zM1228 712h10v1h-10zM1238 711h1v1h-1zM1239 710h2v1h-2zM1241 709h1v1h-1zM1242 708h1v1h-1zM1243 707h2v1h-2zM1245 706h2v1h-2zM1247 705h2v1h-2zM1249 704h3v1h-3zM1252 703h2v1h-2zM1254 704h1v1h-1zM1255 705h2v1h-2zM1257 706h1v1h-1zM1258 707h1v1h-1zM1259 708h2v1h-2zM1261 709h2v1h-2zM1263 708h4v1h-4zM1267 707h4v1h-4zM1271 706h4v1h-4zM1275 705h3v1h-3zM1278 706h2v1h-2zM1280 707h2v1h-2zM1282 708h2v1h-2zM1284 709h2v1h-2zM1286 708h2v1h-2zM1288 707h2v1h-2zM1290 706h2v1h-2zM1292 705h2v1h-2zM1294 704h2v1h-2zM1296 703h1v1h-1zM1297 702h2v1h-2zM1299 701h2v1h-2zM1301 700h2v1h-2zM1303 699h2v1h-2zM1305 698h3v1h-3zM1308 697h3v1h-3zM1311 698h4v1h-4zM1315 699h3v1h-3zM1318 700h2v1h-2zM1320 701h2v1h-2zM1322 702h2v1h-2zM1324 703h3v1h-3zM1327 704h4v1h-4zM1331 705h3v1h-3z" fill="#1e90ff"/><g font-family='"Liberation Sans", sans-serif' shape-rendering="auto" text-rendering="geometricPrecision"><rect x="1691" y="45" width="2" height="1" fill="#000" shape-rendering="crispEdges"/><text x="1696" y="49" fill="#000" stroke="#000" stroke-width="0.25" font-size="9.5" text-anchor="start" textLength="27.2" lengthAdjust="spacingAndGlyphs">4254.0</text><rect x="1691" y="78" width="2" height="1" fill="#000" shape-rendering="crispEdges"/><text x="1696" y="82" fill="#000" stroke="#000" stroke-width="0.25" font-size="9.5" text-anchor="start" textLength="27.2" lengthAdjust="spacingAndGlyphs">4209.0</text><rect x="1691" y="111" width="2" height="1" fill="#000" shape-rendering="crispEdges"/><text x="1696" y="115" fill="#000" stroke="#000" stroke-width="0.25" font-size="9.5" text-anchor="start" textLength="27.2" lengthAdjust="spacingAndGlyphs">4164.0</text><rect x="1691" y="177" width="2" height="1" fill="#000" shape-rendering="crispEdges"/><text x="1696" y="181" fill="#000" stroke="#000" stroke-width="0.25" font-size="9.5" text-anchor="start" textLength="27.2" lengthAdjust="spacingAndGlyphs">4073.0</text><rect x="1691" y="210" width="2" height="1" fill="#000" shape-rendering="crispEdges"/><text x="1696" y="214" fill="#000" stroke="#000" stroke-width="0.25" font-size="9.5" text-anchor="start" textLength="27.2" lengthAdjust="spacingAndGlyphs">4028.0</text><rect x="1691" y="243" width="2" height="1" fill="#000" shape-rendering="crispEdges"/><text x="1696" y="247" fill="#000" stroke="#000" stroke-width="0.25" font-size="9.5" text-anchor="start" textLength="27.2" lengthAdjust="spacingAndGlyphs">3983.0</text><rect x="1691" y="276" width="2" height="1" fill="#000" shape-rendering="crispEdges"/><text x="1696" y="280" fill="#000" stroke="#000" stroke-width="0.25" font-size="9.5" text-anchor="start" textLength="27.2" lengthAdjust="spacingAndGlyphs">3938.0</text><rect x="1691" y="309" width="2" height="1" fill="#000" shape-rendering="crispEdges"/><text x="1696" y="313" fill="#000" stroke="#000" stroke-width="0.25" font-size="9.5" text-anchor="start" textLength="27.2" lengthAdjust="spacingAndGlyphs">3893.0</text><rect x="1691" y="342" width="2" height="1" fill="#000" shape-rendering="crispEdges"/><text x="1696" y="346" fill="#000" stroke="#000" stroke-width="0.25" font-size="9.5" text-anchor="start" textLength="27.2" lengthAdjust="spacingAndGlyphs">3847.0</text><rect x="1691" y="375" width="2" height="1" fill="#000" shape-rendering="crispEdges"/><text x="1696" y="379" fill="#000" stroke="#000" stroke-width="0.25" font-size="9.5" text-anchor="start" textLength="27.2" lengthAdjust="spacingAndGlyphs">3802.0</text><rect x="1691" y="408" width="2" height="1" fill="#000" shape-rendering="crispEdges"/><text x="1696" y="412" fill="#000" stroke="#000" stroke-width="0.25" font-size="9.5" text-anchor="start" textLength="27.2" lengthAdjust="spacingAndGlyphs">3757.0</text><rect x="1691" y="441" width="2" height="1" fill="#000" shape-rendering="crispEdges"/><text x="1696" y="445" fill="#000" stroke="#000" stroke-width="0.25" font-size="9.5" text-anchor="start" textLength="27.2" lengthAdjust="spacingAndGlyphs">3712.0</text><rect x="1691" y="474" width="2" height="1" fill="#000" shape-rendering="crispEdges"/><text x="1696" y="478" fill="#000" stroke="#000" stroke-width="0.25" font-size="9.5" text-anchor="start" textLength="27.2" lengthAdjust="spacingAndGlyphs">3667.0</text><rect x="1691" y="507" width="2" height="1" fill="#000" shape-rendering="crispEdges"/><text x="1696" y="511" fill="#000" stroke="#000" stroke-width="0.25" font-size="9.5" text-anchor="start" textLength="27.2" lengthAdjust="spacingAndGlyphs">3621.0</text><rect x="1691" y="540" width="2" height="1" fill="#000" shape-rendering="crispEdges"/><text x="1696" y="544" fill="#000" stroke="#000" stroke-width="0.25" font-size="9.5" text-anchor="start" textLength="27.2" lengthAdjust="spacingAndGlyphs">3576.0</text><rect x="1692" y="139" width="33" height="11" fill="#000" shape-rendering="crispEdges"/><text x="1696" y="148.0" fill="#fff" stroke="#fff" stroke-width="0.25" font-size="9.5" text-anchor="start" textLength="27.2" lengthAdjust="spacingAndGlyphs">4118.6</text><rect x="1692" y="130" width="33" height="11" fill="#00ff7f" shape-rendering="crispEdges"/><text x="1696" y="139.0" fill="#fff" stroke="#fff" stroke-width="0.25" font-size="9.5" text-anchor="start" textLength="27.2" lengthAdjust="spacingAndGlyphs">4130.0</text><rect x="1692" y="86" width="33" height="11" fill="#ff0000" shape-rendering="crispEdges"/><text x="1696" y="95.0" fill="#fff" stroke="#fff" stroke-width="0.25" font-size="9.5" text-anchor="start" textLength="27.2" lengthAdjust="spacingAndGlyphs">4190.0</text><rect x="1692" y="185" width="33" height="11" fill="#4169e1" shape-rendering="crispEdges"/><text x="1696" y="194.0" fill="#fff" stroke="#fff" stroke-width="0.25" font-size="9.5" text-anchor="start" textLength="27.2" lengthAdjust="spacingAndGlyphs">4055.0</text><rect x="1692" y="254" width="33" height="11" fill="#4169e1" shape-rendering="crispEdges"/><text x="1696" y="263.0" fill="#fff" stroke="#fff" stroke-width="0.25" font-size="9.5" text-anchor="start" textLength="27.2" lengthAdjust="spacingAndGlyphs">3960.0</text><rect x="1692" y="346" width="33" height="11" fill="#4169e1" shape-rendering="crispEdges"/><text x="1696" y="355.0" fill="#fff" stroke="#fff" stroke-width="0.25" font-size="9.5" text-anchor="start" textLength="27.2" lengthAdjust="spacingAndGlyphs">3835.0</text><rect x="1691" y="547" width="2" height="1" fill="#000" shape-rendering="crispEdges"/><rect x="1691" y="585" width="2" height="1" fill="#000" shape-rendering="crispEdges"/><text x="1694" y="556" fill="#000" stroke="#000" stroke-width="0.25" font-size="9.5" text-anchor="start" >57.1</text><text x="1694" y="589" fill="#000" stroke="#000" stroke-width="0.25" font-size="9.5" text-anchor="start" >0.00</text><text x="1694" y="655" fill="#000" stroke="#000" stroke-width="0.25" font-size="9.5" text-anchor="start" >-109.43</text><text x="1694" y="670.6" fill="#000" stroke="#000" stroke-width="0.25" font-size="9.5" text-anchor="start" >100</text><text x="1694" y="698" fill="#000" stroke="#000" stroke-width="0.25" font-size="9.5" text-anchor="start" >70</text><text x="1694" y="742" fill="#000" stroke="#000" stroke-width="0.25" font-size="9.5" text-anchor="start" >30</text><text x="1694" y="769" fill="#000" stroke="#000" stroke-width="0.25" font-size="9.5" text-anchor="start" >0</text><path d="M8 42h7v1h-1v1h-1v1h-1v1h-1v-1h-1v-1h-1v-1h-1z" fill="#000" shape-rendering="crispEdges"/><text x="20" y="47" fill="#000" stroke="#000" stroke-width="0.25" font-size="9.5" text-anchor="start" xml:space="preserve">CHINA300-,H4  4134.5 4150.4 4117.8 4118.6</text><text x="9" y="558" fill="#000" stroke="#000" stroke-width="0.25" font-size="9.5" text-anchor="start" >MACD(12,26,9) 47.15 34.26</text><text x="9" y="673" fill="#000" stroke="#000" stroke-width="0.25" font-size="9.5" text-anchor="start" textLength="68" lengthAdjust="spacingAndGlyphs">RSI(14) 60.0756</text><rect x="5" y="773" width="1" height="3" fill="#000" shape-rendering="crispEdges"/><text x="4" y="785" fill="#000" stroke="#000" stroke-width="0.25" font-size="9.5" text-anchor="start" >21 Oct 2019</text><rect x="69" y="773" width="1" height="3" fill="#000" shape-rendering="crispEdges"/><text x="68" y="785" fill="#000" stroke="#000" stroke-width="0.25" font-size="9.5" text-anchor="start" >25 Oct 05:00</text><rect x="133" y="773" width="1" height="3" fill="#000" shape-rendering="crispEdges"/><text x="132" y="785" fill="#000" stroke="#000" stroke-width="0.25" font-size="9.5" text-anchor="start" >31 Oct 05:00</text><rect x="197" y="773" width="1" height="3" fill="#000" shape-rendering="crispEdges"/><text x="196" y="785" fill="#000" stroke="#000" stroke-width="0.25" font-size="9.5" text-anchor="start" >6 Nov 05:00</text><rect x="261" y="773" width="1" height="3" fill="#000" shape-rendering="crispEdges"/><text x="260" y="785" fill="#000" stroke="#000" stroke-width="0.25" font-size="9.5" text-anchor="start" >12 Nov 05:00</text><rect x="325" y="773" width="1" height="3" fill="#000" shape-rendering="crispEdges"/><text x="324" y="785" fill="#000" stroke="#000" stroke-width="0.25" font-size="9.5" text-anchor="start" >18 Nov 05:00</text><rect x="389" y="773" width="1" height="3" fill="#000" shape-rendering="crispEdges"/><text x="388" y="785" fill="#000" stroke="#000" stroke-width="0.25" font-size="9.5" text-anchor="start" >22 Nov 05:00</text><rect x="453" y="773" width="1" height="3" fill="#000" shape-rendering="crispEdges"/><text x="452" y="785" fill="#000" stroke="#000" stroke-width="0.25" font-size="9.5" text-anchor="start" >28 Nov 05:00</text><rect x="517" y="773" width="1" height="3" fill="#000" shape-rendering="crispEdges"/><text x="516" y="785" fill="#000" stroke="#000" stroke-width="0.25" font-size="9.5" text-anchor="start" >4 Dec 05:00</text><rect x="581" y="773" width="1" height="3" fill="#000" shape-rendering="crispEdges"/><text x="580" y="785" fill="#000" stroke="#000" stroke-width="0.25" font-size="9.5" text-anchor="start" >10 Dec 05:00</text><rect x="645" y="773" width="1" height="3" fill="#000" shape-rendering="crispEdges"/><text x="644" y="785" fill="#000" stroke="#000" stroke-width="0.25" font-size="9.5" text-anchor="start" >16 Dec 05:00</text><rect x="709" y="773" width="1" height="3" fill="#000" shape-rendering="crispEdges"/><text x="708" y="785" fill="#000" stroke="#000" stroke-width="0.25" font-size="9.5" text-anchor="start" >20 Dec 05:00</text><rect x="773" y="773" width="1" height="3" fill="#000" shape-rendering="crispEdges"/><text x="772" y="785" fill="#000" stroke="#000" stroke-width="0.25" font-size="9.5" text-anchor="start" >26 Dec 05:00</text><rect x="837" y="773" width="1" height="3" fill="#000" shape-rendering="crispEdges"/><text x="836" y="785" fill="#000" stroke="#000" stroke-width="0.25" font-size="9.5" text-anchor="start" >2 Jan 05:00</text><rect x="901" y="773" width="1" height="3" fill="#000" shape-rendering="crispEdges"/><text x="900" y="785" fill="#000" stroke="#000" stroke-width="0.25" font-size="9.5" text-anchor="start" >8 Jan 05:00</text><rect x="965" y="773" width="1" height="3" fill="#000" shape-rendering="crispEdges"/><text x="964" y="785" fill="#000" stroke="#000" stroke-width="0.25" font-size="9.5" text-anchor="start" >14 Jan 05:00</text><rect x="1029" y="773" width="1" height="3" fill="#000" shape-rendering="crispEdges"/><text x="1028" y="785" fill="#000" stroke="#000" stroke-width="0.25" font-size="9.5" text-anchor="start" >20 Jan 05:00</text><rect x="1093" y="773" width="1" height="3" fill="#000" shape-rendering="crispEdges"/><text x="1092" y="785" fill="#000" stroke="#000" stroke-width="0.25" font-size="9.5" text-anchor="start" >3 Feb 05:00</text><rect x="1157" y="773" width="1" height="3" fill="#000" shape-rendering="crispEdges"/><text x="1156" y="785" fill="#000" stroke="#000" stroke-width="0.25" font-size="9.5" text-anchor="start" >7 Feb 05:00</text><rect x="1221" y="773" width="1" height="3" fill="#000" shape-rendering="crispEdges"/><text x="1220" y="785" fill="#000" stroke="#000" stroke-width="0.25" font-size="9.5" text-anchor="start" >13 Feb 05:00</text><rect x="1285" y="773" width="1" height="3" fill="#000" shape-rendering="crispEdges"/><text x="1284" y="785" fill="#000" stroke="#000" stroke-width="0.25" font-size="9.5" text-anchor="start" >19 Feb 05:00</text></g><text fill="#ff2a0a" font-size="32.6" shape-rendering="auto" x="1327.7" y="446.9" font-family='"Noto Sans CJK SC","Liberation Sans",sans-serif'>多空转折点<tspan x="1488.3" textLength="75.5" lengthAdjust="spacingAndGlyphs">4130</tspan></text></svg>
<svg id="tbsvg" width="1725" height="31" viewBox="0 0 1725 31" style="position:absolute;left:0;top:0" shape-rendering="crispEdges">
<rect x="0" y="4" width="656" height="1" fill="#a6a6a6"/>
<rect x="0" y="5" width="656" height="1" fill="#fcfcfc"/>
<rect x="655" y="0" width="1" height="5" fill="#a6a6a6"/>
<rect x="0" y="0" width="16" height="2" fill="#fafafa"/>
<rect x="37" y="0" width="2" height="2" fill="#e8a33d"/>
<rect x="49" y="0" width="1" height="3" fill="#555"/>
<rect x="68" y="0" width="4" height="2" fill="#0a9a0a"/>
<rect x="157" y="0" width="13" height="1" fill="#dcdcdc"/>
<rect x="217" y="0" width="8" height="1" fill="#dcdcdc"/>
<rect x="286" y="0" width="1" height="4" fill="#a6a6a6"/>
<rect x="290" y="0" width="2" height="1" fill="#666"/>
<rect x="324" y="0" width="25" height="2" fill="#fafafa"/>
<rect x="381" y="0" width="1" height="3" fill="#a6a6a6"/>
<rect x="506" y="0" width="1" height="2" fill="#888"/>
<rect x="551" y="0" width="4" height="2" fill="#0a9a0a"/>
<rect x="117" y="6" width="1" height="25" fill="#9a9a9a"/>
<rect x="118" y="6" width="1" height="25" fill="#fbfbfb"/>
<rect x="378" y="6" width="1" height="25" fill="#9a9a9a"/>
<rect x="379" y="6" width="1" height="25" fill="#fbfbfb"/>
<rect x="121" y="9" width="3" height="1" fill="#a4a4a4"/>
<rect x="121" y="11" width="3" height="1" fill="#a4a4a4"/>
<rect x="121" y="13" width="3" height="1" fill="#a4a4a4"/>
<rect x="121" y="15" width="3" height="1" fill="#a4a4a4"/>
<rect x="121" y="17" width="3" height="1" fill="#a4a4a4"/>
<rect x="121" y="19" width="3" height="1" fill="#a4a4a4"/>
<rect x="121" y="21" width="3" height="1" fill="#a4a4a4"/>
<rect x="121" y="23" width="3" height="1" fill="#a4a4a4"/>
<rect x="121" y="25" width="3" height="1" fill="#a4a4a4"/>
<rect x="121" y="27" width="3" height="1" fill="#a4a4a4"/>
<rect x="267" y="7" width="25" height="22" fill="#f9f9f9"/>
<rect x="267" y="7" width="25" height="1" fill="#a0a0a0"/>
<rect x="267" y="7" width="1" height="22" fill="#a0a0a0"/>
<rect x="1" y="12" width="1" height="1" fill="#404040"/>
<rect x="3" y="12" width="1" height="1" fill="#404040"/>
<rect x="5" y="12" width="1" height="1" fill="#404040"/>
<rect x="7" y="12" width="1" height="1" fill="#404040"/>
<rect x="9" y="12" width="1" height="1" fill="#404040"/>
<rect x="11" y="12" width="1" height="1" fill="#404040"/>
<rect x="13" y="12" width="1" height="1" fill="#404040"/>
<rect x="1" y="15" width="1" height="1" fill="#404040"/>
<rect x="3" y="15" width="1" height="1" fill="#404040"/>
<rect x="5" y="15" width="1" height="1" fill="#404040"/>
<rect x="7" y="15" width="1" height="1" fill="#404040"/>
<rect x="9" y="15" width="1" height="1" fill="#404040"/>
<rect x="11" y="15" width="1" height="1" fill="#404040"/>
<rect x="13" y="15" width="1" height="1" fill="#404040"/>
<rect x="1" y="19" width="1" height="1" fill="#404040"/>
<rect x="3" y="19" width="1" height="1" fill="#404040"/>
<rect x="5" y="19" width="1" height="1" fill="#404040"/>
<rect x="7" y="19" width="1" height="1" fill="#404040"/>
<rect x="9" y="19" width="1" height="1" fill="#404040"/>
<rect x="11" y="19" width="1" height="1" fill="#404040"/>
<rect x="13" y="19" width="1" height="1" fill="#404040"/>
<rect x="1" y="23" width="1" height="1" fill="#404040"/>
<rect x="3" y="23" width="1" height="1" fill="#404040"/>
<rect x="5" y="23" width="1" height="1" fill="#404040"/>
<rect x="7" y="23" width="1" height="1" fill="#404040"/>
<rect x="9" y="23" width="1" height="1" fill="#404040"/>
<g shape-rendering="auto"><rect x="11" y="23" width="1.2" height="5" fill="#404040"/><rect x="11" y="23" width="4" height="1.1" fill="#404040"/><rect x="11" y="25.1" width="3.2" height="1" fill="#404040"/></g>
<rect x="58" y="13" width="1" height="1" fill="#404040"/>
<rect x="58" y="25" width="1" height="1" fill="#404040"/>
<rect x="58" y="13" width="1" height="1" fill="#404040"/>
<rect x="69" y="13" width="1" height="1" fill="#404040"/>
<rect x="60" y="13" width="1" height="1" fill="#404040"/>
<rect x="60" y="25" width="1" height="1" fill="#404040"/>
<rect x="58" y="15" width="1" height="1" fill="#404040"/>
<rect x="69" y="15" width="1" height="1" fill="#404040"/>
<rect x="62" y="13" width="1" height="1" fill="#404040"/>
<rect x="62" y="25" width="1" height="1" fill="#404040"/>
<rect x="58" y="17" width="1" height="1" fill="#404040"/>
<rect x="69" y="17" width="1" height="1" fill="#404040"/>
<rect x="64" y="13" width="1" height="1" fill="#404040"/>
<rect x="64" y="25" width="1" height="1" fill="#404040"/>
<rect x="58" y="19" width="1" height="1" fill="#404040"/>
<rect x="69" y="19" width="1" height="1" fill="#404040"/>
<rect x="66" y="13" width="1" height="1" fill="#404040"/>
<rect x="66" y="25" width="1" height="1" fill="#404040"/>
<rect x="58" y="21" width="1" height="1" fill="#404040"/>
<rect x="69" y="21" width="1" height="1" fill="#404040"/>
<rect x="68" y="13" width="1" height="1" fill="#404040"/>
<rect x="68" y="25" width="1" height="1" fill="#404040"/>
<rect x="58" y="23" width="1" height="1" fill="#404040"/>
<rect x="69" y="23" width="1" height="1" fill="#404040"/>
<rect x="58" y="25" width="1" height="1" fill="#404040"/>
<rect x="69" y="25" width="1" height="1" fill="#404040"/>
<rect x="57" y="12" width="2" height="1" fill="#404040"/>
<rect x="60" y="16" width="8" height="1" fill="#555"/><rect x="63" y="16" width="2" height="8" fill="#555"/>
<g shape-rendering="auto">
<polygon points="88.5,12.8 92.3,16.6 90,16.6 90,17.6 87,17.6 87,16.6 84.7,16.6" fill="#505050"/>
<polygon points="95.5,25.8 99.3,22 97,22 97,21 94,21 94,22 91.7,22" fill="#505050"/>
<polyline points="87.2,20.3 89.4,22.5 93.8,17" fill="none" stroke="#505050" stroke-width="1.2"/>
<polygon points="105.5,18 111.5,18 108.5,21" fill="#000"/>
</g>
<g font-family='"Liberation Sans", sans-serif' shape-rendering="auto">
<text x="31.9" y="24" font-size="12.8" fill="#555" stroke="#555" stroke-width="0.5" textLength="7.6" lengthAdjust="spacingAndGlyphs">A</text>
<text x="139" y="22.5" font-size="9.5" text-anchor="middle" fill="#444" stroke="#444" stroke-width="0.2">M1</text>
<text x="167" y="22.5" font-size="9.5" text-anchor="middle" fill="#444" stroke="#444" stroke-width="0.2">M5</text>
<text x="195.5" y="22.5" font-size="9.5" text-anchor="middle" fill="#444" stroke="#444" stroke-width="0.2">M15</text>
<text x="223.5" y="22.5" font-size="9.5" text-anchor="middle" fill="#444" stroke="#444" stroke-width="0.2">M30</text>
<text x="251.6" y="22.5" font-size="9.5" text-anchor="middle" fill="#444" stroke="#444" stroke-width="0.2">H1</text>
<text x="279" y="22.5" font-size="9.5" text-anchor="middle" fill="#444" stroke="#444" stroke-width="0.2">H4</text>
<text x="307.5" y="22.5" font-size="9.5" text-anchor="middle" fill="#444" stroke="#444" stroke-width="0.2">D1</text>
<text x="336" y="22.5" font-size="9.5" text-anchor="middle" fill="#444" stroke="#444" stroke-width="0.2">W1</text>
<text x="363" y="22.5" font-size="9.5" text-anchor="middle" fill="#444" stroke="#444" stroke-width="0.2">MN</text>
</g>
</svg>
</body></html>
